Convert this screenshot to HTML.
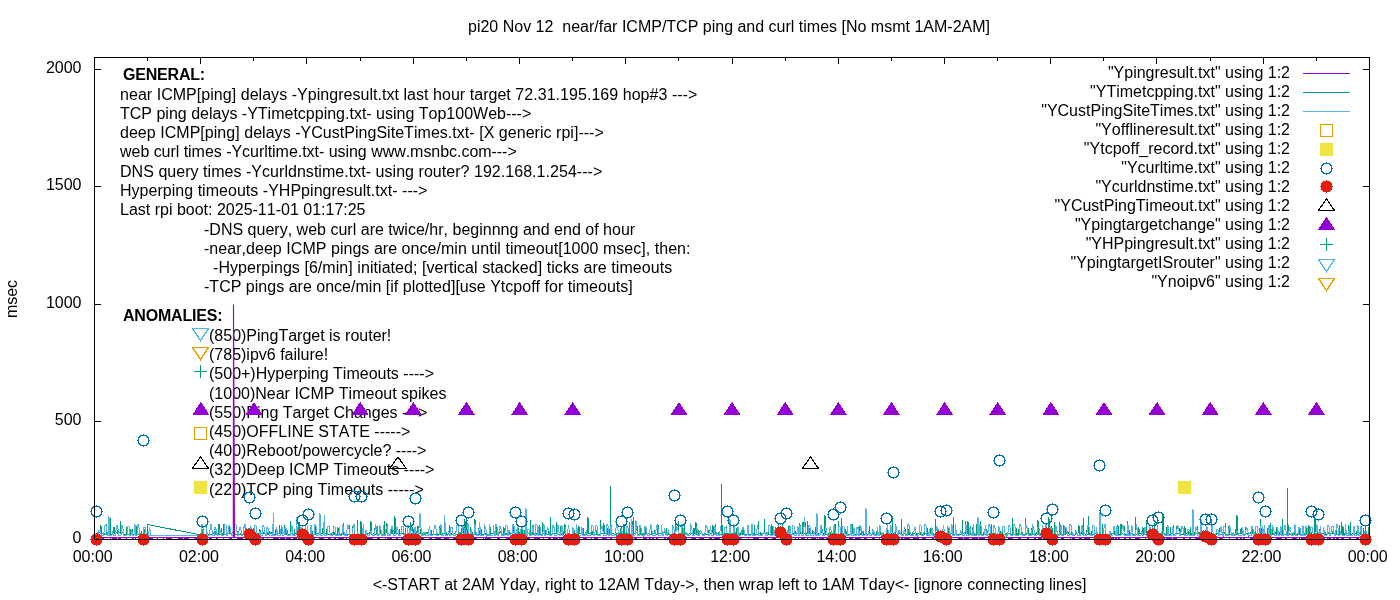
<!DOCTYPE html>
<html><head><meta charset="utf-8"><style>html,body{margin:0;padding:0;background:#fff;width:1400px;height:600px;overflow:hidden}
svg{display:block;will-change:transform;font-kerning:none} text{font-family:"Liberation Sans",sans-serif;fill:#000}</style></head>
<body><svg width="1400" height="600" viewBox="0 0 1400 600" shape-rendering="crispEdges">
<rect width="1400" height="600" fill="#fff"/>
<text x="729" y="32" font-size="16" text-anchor="middle" font-weight="normal"  xml:space="preserve">pi20 Nov 12  near/far ICMP/TCP ping and curl times [No msmt 1AM-2AM]</text>
<text x="0" y="0" font-size="16" text-anchor="middle" transform="translate(17,299) rotate(-90)">msec</text>
<text x="81.5" y="543.0" font-size="16" text-anchor="end" font-weight="normal"  xml:space="preserve">0</text>
<text x="81.5" y="425.45" font-size="16" text-anchor="end" font-weight="normal"  xml:space="preserve">500</text>
<text x="81.5" y="307.9" font-size="16" text-anchor="end" font-weight="normal"  xml:space="preserve">1000</text>
<text x="81.5" y="190.35000000000002" font-size="16" text-anchor="end" font-weight="normal"  xml:space="preserve">1500</text>
<text x="81.5" y="72.80000000000001" font-size="16" text-anchor="end" font-weight="normal"  xml:space="preserve">2000</text>
<text x="92.7" y="562" font-size="16" text-anchor="middle" font-weight="normal"  xml:space="preserve">00:00</text>
<text x="198.95" y="562" font-size="16" text-anchor="middle" font-weight="normal"  xml:space="preserve">02:00</text>
<text x="305.2" y="562" font-size="16" text-anchor="middle" font-weight="normal"  xml:space="preserve">04:00</text>
<text x="411.45" y="562" font-size="16" text-anchor="middle" font-weight="normal"  xml:space="preserve">06:00</text>
<text x="517.7" y="562" font-size="16" text-anchor="middle" font-weight="normal"  xml:space="preserve">08:00</text>
<text x="623.95" y="562" font-size="16" text-anchor="middle" font-weight="normal"  xml:space="preserve">10:00</text>
<text x="730.2" y="562" font-size="16" text-anchor="middle" font-weight="normal"  xml:space="preserve">12:00</text>
<text x="836.45" y="562" font-size="16" text-anchor="middle" font-weight="normal"  xml:space="preserve">14:00</text>
<text x="942.7" y="562" font-size="16" text-anchor="middle" font-weight="normal"  xml:space="preserve">16:00</text>
<text x="1048.95" y="562" font-size="16" text-anchor="middle" font-weight="normal"  xml:space="preserve">18:00</text>
<text x="1155.2" y="562" font-size="16" text-anchor="middle" font-weight="normal"  xml:space="preserve">20:00</text>
<text x="1261.45" y="562" font-size="16" text-anchor="middle" font-weight="normal"  xml:space="preserve">22:00</text>
<text x="1367.7" y="562" font-size="16" text-anchor="middle" font-weight="normal"  xml:space="preserve">00:00</text>
<text x="729.5" y="590" font-size="16" text-anchor="middle" font-weight="normal"  xml:space="preserve">&lt;-START at 2AM Yday, right to 12AM Tday-&gt;, then wrap left to 1AM Tday&lt;- [ignore connecting lines]</text>
<path d="M94.5,421.5h6M1369.5,421.5h-7M94.5,304.5h6M1369.5,304.5h-7M94.5,186.5h6M1369.5,186.5h-7M94.5,69.5h6M1369.5,69.5h-7M147.5,539.5v-3M147.5,57.5v3M200.5,539.5v-6M200.5,57.5v6M253.5,539.5v-3M253.5,57.5v3M306.5,539.5v-6M306.5,57.5v6M360.5,539.5v-3M360.5,57.5v3M413.5,539.5v-6M413.5,57.5v6M466.5,539.5v-3M466.5,57.5v3M519.5,539.5v-6M519.5,57.5v6M572.5,539.5v-3M572.5,57.5v3M625.5,539.5v-6M625.5,57.5v6M678.5,539.5v-3M678.5,57.5v3M732.5,539.5v-6M732.5,57.5v6M785.5,539.5v-3M785.5,57.5v3M838.5,539.5v-6M838.5,57.5v6M891.5,539.5v-3M891.5,57.5v3M944.5,539.5v-6M944.5,57.5v6M997.5,539.5v-3M997.5,57.5v3M1050.5,539.5v-6M1050.5,57.5v6M1103.5,539.5v-3M1103.5,57.5v3M1156.5,539.5v-6M1156.5,57.5v6M1210.5,539.5v-3M1210.5,57.5v3M1263.5,539.5v-6M1263.5,57.5v6M1316.5,539.5v-3M1316.5,57.5v3" stroke="#000" stroke-width="1" fill="none"/>
<text x="123" y="80" font-size="16" text-anchor="start" font-weight="bold" letter-spacing="-0.2" xml:space="preserve">GENERAL:</text>
<text x="120" y="100" font-size="16" text-anchor="start" font-weight="normal"  textLength="577.31" lengthAdjust="spacing" xml:space="preserve">near ICMP[ping] delays -Ypingresult.txt last hour target 72.31.195.169 hop#3 ---&gt;</text>
<text x="120" y="119" font-size="16" text-anchor="start" font-weight="normal"  xml:space="preserve">TCP ping delays -YTimetcpping.txt- using Top100Web---&gt;</text>
<text x="120" y="138" font-size="16" text-anchor="start" font-weight="normal"  textLength="483.82" lengthAdjust="spacing" xml:space="preserve">deep ICMP[ping] delays -YCustPingSiteTimes.txt- [X generic rpi]---&gt;</text>
<text x="120" y="157" font-size="16" text-anchor="start" font-weight="normal"  textLength="396.74" lengthAdjust="spacing" xml:space="preserve">web curl times -Ycurltime.txt- using www.msnbc.com---&gt;</text>
<text x="120" y="176.5" font-size="16" text-anchor="start" font-weight="normal"  textLength="482.27" lengthAdjust="spacing" xml:space="preserve">DNS query times -Ycurldnstime.txt- using router? 192.168.1.254---&gt;</text>
<text x="120" y="195.7" font-size="16" text-anchor="start" font-weight="normal"  textLength="307.43" lengthAdjust="spacing" xml:space="preserve">Hyperping timeouts -YHPpingresult.txt- ---&gt;</text>
<text x="120" y="215" font-size="16" text-anchor="start" font-weight="normal"  xml:space="preserve">Last rpi boot: 2025-11-01 01:17:25</text>
<text x="204" y="235" font-size="16" text-anchor="start" font-weight="normal"  textLength="431.16" lengthAdjust="spacing" xml:space="preserve">-DNS query, web curl are twice/hr, beginnng and end of hour</text>
<text x="204" y="253.5" font-size="16" text-anchor="start" font-weight="normal"  textLength="486.51" lengthAdjust="spacing" xml:space="preserve">-near,deep ICMP pings are once/min until timeout[1000 msec], then:</text>
<text x="204" y="272.7" font-size="16" text-anchor="start" font-weight="normal"  textLength="468.18" lengthAdjust="spacing" xml:space="preserve">  -Hyperpings [6/min] initiated; [vertical stacked] ticks are timeouts</text>
<text x="204" y="291.8" font-size="16" text-anchor="start" font-weight="normal"  textLength="428.75" lengthAdjust="spacing" xml:space="preserve">-TCP pings are once/min [if plotted][use Ytcpoff for timeouts]</text>
<text x="123" y="321" font-size="16" text-anchor="start" font-weight="bold" letter-spacing="-0.2" xml:space="preserve">ANOMALIES:</text>
<text x="209" y="341.0" font-size="16" text-anchor="start" font-weight="normal"  xml:space="preserve">(850)PingTarget is router!</text>
<text x="209" y="360.2" font-size="16" text-anchor="start" font-weight="normal"  xml:space="preserve">(785)ipv6 failure!</text>
<text x="209" y="379.4" font-size="16" text-anchor="start" font-weight="normal"  xml:space="preserve">(500+)Hyperping Timeouts ----&gt;</text>
<text x="209" y="398.6" font-size="16" text-anchor="start" font-weight="normal"  xml:space="preserve">(1000)Near ICMP Timeout spikes</text>
<text x="209" y="417.8" font-size="16" text-anchor="start" font-weight="normal"  xml:space="preserve">(550)Ping Target Changes ---&gt;</text>
<text x="209" y="437.0" font-size="16" text-anchor="start" font-weight="normal"  xml:space="preserve">(450)OFFLINE STATE -----&gt;</text>
<text x="209" y="456.2" font-size="16" text-anchor="start" font-weight="normal"  xml:space="preserve">(400)Reboot/powercycle? ----&gt;</text>
<text x="209" y="475.4" font-size="16" text-anchor="start" font-weight="normal"  xml:space="preserve">(320)Deep ICMP Timeouts ----&gt;</text>
<text x="209" y="494.6" font-size="16" text-anchor="start" font-weight="normal"  xml:space="preserve">(220)TCP ping Timeouts -----&gt;</text>
<text x="1290" y="78" font-size="16" text-anchor="end" font-weight="normal"  xml:space="preserve">"Ypingresult.txt" using 1:2</text>
<text x="1290" y="97" font-size="16" text-anchor="end" font-weight="normal"  xml:space="preserve">"YTimetcpping.txt" using 1:2</text>
<text x="1290" y="116" font-size="16" text-anchor="end" font-weight="normal"  xml:space="preserve">"YCustPingSiteTimes.txt" using 1:2</text>
<text x="1290" y="135" font-size="16" text-anchor="end" font-weight="normal"  xml:space="preserve">"Yofflineresult.txt" using 1:2</text>
<text x="1290" y="154" font-size="16" text-anchor="end" font-weight="normal"  xml:space="preserve">"Ytcpoff_record.txt" using 1:2</text>
<text x="1290" y="173" font-size="16" text-anchor="end" font-weight="normal"  xml:space="preserve">"Ycurltime.txt" using 1:2</text>
<text x="1290" y="192" font-size="16" text-anchor="end" font-weight="normal"  xml:space="preserve">"Ycurldnstime.txt" using 1:2</text>
<text x="1290" y="211" font-size="16" text-anchor="end" font-weight="normal"  xml:space="preserve">"YCustPingTimeout.txt" using 1:2</text>
<text x="1290" y="230" font-size="16" text-anchor="end" font-weight="normal"  xml:space="preserve">"Ypingtargetchange" using 1:2</text>
<text x="1290" y="249" font-size="16" text-anchor="end" font-weight="normal"  xml:space="preserve">"YHPpingresult.txt" using 1:2</text>
<text x="1290" y="268" font-size="16" text-anchor="end" font-weight="normal"  xml:space="preserve">"YpingtargetISrouter" using 1:2</text>
<text x="1290" y="287" font-size="16" text-anchor="end" font-weight="normal"  xml:space="preserve">"Ynoipv6" using 1:2</text>
<path d="M1303,73.5h47" stroke="#9400d3" stroke-width="1.2"/>
<path d="M1303,92.5h47" stroke="#009e73" stroke-width="1.2"/>
<path d="M1303,111.5h47" stroke="#56b4e9" stroke-width="1.2"/>
<rect x="1320.5" y="124.5" width="12" height="12" fill="none" stroke="#e69f00" stroke-width="1"/>
<rect x="1320.0" y="142.5" width="13" height="13" fill="#f0e442"/>
<path d="M1326,162h1v1h-1zM1323,163h7v1h-7zM1322,164h2v1h-2zM1329,164h2v1h-2zM1321,165h2v1h-2zM1330,165h2v1h-2zM1321,166h1v1h-1zM1331,166h1v1h-1zM1321,167h1v1h-1zM1331,167h1v1h-1zM1320,168h2v1h-2zM1331,168h2v1h-2zM1321,169h1v1h-1zM1331,169h1v1h-1zM1321,170h1v1h-1zM1331,170h1v1h-1zM1321,171h2v1h-2zM1330,171h2v1h-2zM1322,172h2v1h-2zM1329,172h2v1h-2zM1323,173h7v1h-7zM1326,174h1v1h-1z" fill="#0072b2"/>
<path d="M1326,180h1v1h-1zM1323,181h7v1h-7zM1322,182h9v1h-9zM1321,183h11v1h-11zM1321,184h11v1h-11zM1321,185h11v1h-11zM1320,186h13v1h-13zM1321,187h11v1h-11zM1321,188h11v1h-11zM1321,189h11v1h-11zM1322,190h9v1h-9zM1323,191h7v1h-7zM1326,192h1v1h-1z" fill="#e51e10"/>
<path d="M1326.5,198.9L1334.6,210.5L1318.4,210.5Z" fill="none" stroke="#000" stroke-width="1.15"/>
<path d="M1326.5,216.70000000000002L1335.1,229.9L1317.9,229.9Z" fill="#9400d3"/>
<path d="M1320.0,244.2h13M1326.5,237.7v13" stroke="#009e73" stroke-width="1.2"/>
<path d="M1326.5,271.5L1334.5,259.5L1318.5,259.5Z" fill="none" stroke="#56b4e9" stroke-width="1.15"/>
<path d="M1326.5,290.5L1334.5,278.5L1318.5,278.5Z" fill="none" stroke="#e69f00" stroke-width="1.15"/>
<path d="M200.5,340.5L208.5,328.5L192.5,328.5Z" fill="none" stroke="#56b4e9" stroke-width="1.15"/>
<path d="M200.5,359.5L208.5,347.5L192.5,347.5Z" fill="none" stroke="#e69f00" stroke-width="1.15"/>
<path d="M194.0,371.5h13M200.5,365.0v13" stroke="#009e73" stroke-width="1.2"/>
<rect x="194.5" y="427.5" width="12" height="12" fill="none" stroke="#e69f00" stroke-width="1"/>
<path d="M200.5,456.9L208.6,468.5L192.4,468.5Z" fill="none" stroke="#000" stroke-width="1.15"/>
<rect x="194.0" y="481.0" width="13" height="13" fill="#f0e442"/>
<path d="M95,537.5H1369" stroke="#9400d3" stroke-width="1"/>
<path d="M95,538.5h3M100,538.5h4M110,538.5h1M112,538.5h5M118,538.5h3M126,538.5h1M132,538.5h2M135,538.5h1M140,538.5h4M145,538.5h2M148,538.5h5M157,538.5h1M163,538.5h1M166,538.5h6M178,538.5h5M184,538.5h5M194,538.5h4M199,538.5h2M202,538.5h5M209,538.5h3M216,538.5h2M223,538.5h1M229,538.5h3M237,538.5h6M245,538.5h1M251,538.5h5M262,538.5h2M267,538.5h1M273,538.5h6M280,538.5h5M286,538.5h5M293,538.5h4M303,538.5h5M312,538.5h3M319,538.5h5M328,538.5h3M334,538.5h2M338,538.5h6M346,538.5h1M352,538.5h3M360,538.5h4M367,538.5h6M377,538.5h3M385,538.5h1M387,538.5h5M396,538.5h2M401,538.5h2M407,538.5h4M412,538.5h6M419,538.5h5M429,538.5h3M435,538.5h6M444,538.5h5M453,538.5h5M462,538.5h1M464,538.5h3M471,538.5h6M483,538.5h1M485,538.5h6M497,538.5h3M506,538.5h5M517,538.5h4M524,538.5h6M534,538.5h6M543,538.5h1M548,538.5h3M553,538.5h5M559,538.5h4M564,538.5h2M569,538.5h2M577,538.5h2M583,538.5h4M591,538.5h1M594,538.5h4M602,538.5h5M610,538.5h2M616,538.5h5M624,538.5h6M634,538.5h3M643,538.5h4M649,538.5h2M652,538.5h2M656,538.5h2M664,538.5h2M667,538.5h4M676,538.5h2M681,538.5h3M685,538.5h2M691,538.5h5M699,538.5h5M709,538.5h3M714,538.5h6M725,538.5h5M736,538.5h6M748,538.5h1M753,538.5h6M764,538.5h4M772,538.5h4M780,538.5h1M785,538.5h6M795,538.5h1M798,538.5h1M801,538.5h4M807,538.5h1M811,538.5h5M817,538.5h1M819,538.5h5M826,538.5h5M832,538.5h3M840,538.5h1M842,538.5h2M849,538.5h4M855,538.5h6M864,538.5h3M872,538.5h3M879,538.5h1M881,538.5h4M889,538.5h4M897,538.5h3M901,538.5h2M904,538.5h6M913,538.5h6M922,538.5h4M932,538.5h2M939,538.5h1M942,538.5h5M950,538.5h2M958,538.5h5M964,538.5h5M972,538.5h6M979,538.5h6M988,538.5h5M996,538.5h2M1001,538.5h2M1008,538.5h5M1018,538.5h3M1027,538.5h2M1034,538.5h2M1038,538.5h4M1048,538.5h2M1052,538.5h5M1061,538.5h3M1070,538.5h1M1072,538.5h3M1079,538.5h3M1084,538.5h6M1095,538.5h3M1102,538.5h6M1111,538.5h3M1115,538.5h2M1118,538.5h2M1124,538.5h2M1129,538.5h2M1135,538.5h5M1145,538.5h1M1150,538.5h6M1159,538.5h6M1166,538.5h6M1173,538.5h4M1183,538.5h2M1189,538.5h2M1195,538.5h6M1204,538.5h1M1211,538.5h4M1219,538.5h4M1229,538.5h1M1236,538.5h2M1240,538.5h2M1243,538.5h2M1250,538.5h4M1260,538.5h2M1267,538.5h5M1276,538.5h6M1285,538.5h2M1292,538.5h5M1299,538.5h1M1301,538.5h6M1313,538.5h1M1319,538.5h6M1327,538.5h4M1333,538.5h2M1336,538.5h3M1341,538.5h3M1349,538.5h2M1356,538.5h3M1362,538.5h5" stroke="#9400d3" stroke-width="1"/>
<polyline points="95.5,534.5 97.5,534.5 97.5,531.5 97.5,533.5 100.5,532.5 100.5,525.5 101.5,526.5 101.5,533.5 104.5,534.5 104.5,532.5 104.5,534.5 106.5,534.5 106.5,523.5 106.5,534.5 110.5,532.5 110.5,517.5 110.5,534.5 113.5,534.5 113.5,527.5 114.5,527.5 114.5,533.5 117.5,532.5 117.5,529.5 117.5,533.5 120.5,532.5 120.5,520.5 120.5,533.5 123.5,532.5 123.5,531.5 123.5,534.5 126.5,534.5 126.5,526.5 126.5,534.5 130.5,534.5 130.5,528.5 130.5,534.5 132.5,534.5 132.5,528.5 132.5,534.5 136.5,534.5 136.5,526.5 137.5,527.5 137.5,534.5 141.5,533.5 141.5,530.5 141.5,534.5 143.5,534.5 143.5,527.5 144.5,531.5 144.5,534.5 147.5,534.5 147.5,525.5 147.5,533.5 147.5,524.5 198.5,534.5 199.5,534.5 200.5,534.5 200.5,532.5 200.5,534.5 201.5,534.5 201.5,528.5 202.5,529.5 202.5,534.5 206.5,534.5 206.5,525.5 206.5,533.5 209.5,534.5 209.5,529.5 209.5,534.5 212.5,534.5 212.5,529.5 212.5,534.5 213.5,532.5 213.5,533.5 214.5,533.5 214.5,534.5 215.5,534.5 215.5,530.5 215.5,534.5 218.5,534.5 218.5,524.5 219.5,524.5 219.5,534.5 221.5,534.5 221.5,527.5 221.5,533.5 223.5,534.5 223.5,524.5 224.5,526.5 224.5,534.5 226.5,534.5 226.5,524.5 226.5,534.5 229.5,533.5 229.5,526.5 230.5,529.5 230.5,533.5 233.5,532.5 233.5,530.5 233.5,534.5 237.5,534.5 237.5,531.5 238.5,532.5 238.5,534.5 240.5,534.5 240.5,533.5 241.5,535.5 241.5,534.5 243.5,534.5 243.5,526.5 243.5,533.5 245.5,532.5 245.5,527.5 246.5,528.5 246.5,534.5 248.5,533.5 248.5,527.5 248.5,533.5 250.5,534.5 250.5,527.5 251.5,528.5 251.5,534.5 253.5,533.5 253.5,527.5 253.5,534.5 255.5,532.5 255.5,533.5 256.5,533.5 256.5,534.5 259.5,532.5 259.5,529.5 260.5,530.5 260.5,534.5 263.5,532.5 263.5,532.5 263.5,533.5 266.5,533.5 266.5,530.5 267.5,534.5 267.5,533.5 269.5,534.5 269.5,530.5 269.5,533.5 271.5,532.5 271.5,533.5 271.5,533.5 275.5,534.5 275.5,529.5 276.5,531.5 276.5,534.5 279.5,533.5 279.5,524.5 279.5,533.5 281.5,533.5 281.5,526.5 281.5,533.5 284.5,532.5 284.5,525.5 285.5,528.5 285.5,534.5 286.5,534.5 286.5,528.5 287.5,531.5 287.5,534.5 290.5,534.5 290.5,520.5 290.5,533.5 294.5,534.5 294.5,528.5 294.5,533.5 298.5,534.5 298.5,522.5 299.5,522.5 299.5,534.5 301.5,534.5 301.5,530.5 302.5,534.5 302.5,534.5 305.5,533.5 305.5,523.5 305.5,533.5 307.5,534.5 307.5,530.5 308.5,533.5 308.5,534.5 311.5,533.5 311.5,530.5 312.5,531.5 312.5,534.5 315.5,534.5 315.5,525.5 316.5,527.5 316.5,534.5 319.5,532.5 319.5,529.5 319.5,534.5 322.5,533.5 322.5,528.5 323.5,531.5 323.5,533.5 326.5,533.5 326.5,528.5 326.5,534.5 328.5,534.5 328.5,533.5 328.5,534.5 331.5,534.5 331.5,532.5 331.5,533.5 333.5,534.5 333.5,526.5 333.5,533.5 334.5,534.5 334.5,531.5 334.5,534.5 335.5,534.5 335.5,531.5 335.5,534.5 337.5,534.5 337.5,527.5 338.5,529.5 338.5,534.5 339.5,533.5 339.5,532.5 339.5,534.5 343.5,533.5 343.5,522.5 343.5,534.5 346.5,534.5 346.5,532.5 347.5,535.5 347.5,534.5 349.5,534.5 349.5,524.5 349.5,534.5 352.5,534.5 352.5,525.5 352.5,534.5 354.5,534.5 354.5,525.5 354.5,534.5 357.5,534.5 357.5,519.5 357.5,534.5 360.5,534.5 360.5,521.5 361.5,523.5 361.5,533.5 362.5,534.5 362.5,527.5 362.5,534.5 363.5,533.5 363.5,524.5 363.5,534.5 365.5,534.5 365.5,530.5 366.5,532.5 366.5,534.5 370.5,532.5 370.5,521.5 371.5,522.5 371.5,534.5 374.5,533.5 374.5,527.5 374.5,534.5 376.5,534.5 376.5,526.5 376.5,534.5 377.5,534.5 377.5,525.5 377.5,534.5 379.5,534.5 379.5,528.5 379.5,533.5 380.5,533.5 380.5,529.5 381.5,530.5 381.5,534.5 384.5,534.5 384.5,520.5 384.5,533.5 386.5,532.5 386.5,523.5 387.5,525.5 387.5,533.5 390.5,534.5 390.5,528.5 390.5,534.5 391.5,532.5 391.5,526.5 392.5,528.5 392.5,533.5 394.5,533.5 394.5,516.5 395.5,519.5 395.5,533.5 399.5,534.5 399.5,528.5 399.5,533.5 403.5,533.5 403.5,528.5 403.5,534.5 405.5,533.5 405.5,527.5 405.5,534.5 409.5,533.5 409.5,527.5 409.5,533.5 410.5,534.5 410.5,521.5 410.5,534.5 412.5,533.5 412.5,527.5 413.5,531.5 413.5,534.5 416.5,534.5 416.5,530.5 416.5,533.5 417.5,532.5 417.5,526.5 418.5,526.5 418.5,533.5 420.5,533.5 420.5,529.5 421.5,532.5 421.5,533.5 423.5,534.5 423.5,532.5 423.5,534.5 427.5,532.5 427.5,533.5 427.5,533.5 430.5,534.5 430.5,530.5 431.5,530.5 431.5,534.5 433.5,534.5 433.5,529.5 433.5,534.5 436.5,534.5 436.5,531.5 436.5,534.5 437.5,534.5 437.5,532.5 437.5,534.5 439.5,534.5 439.5,526.5 440.5,529.5 440.5,534.5 444.5,533.5 444.5,529.5 444.5,534.5 446.5,534.5 446.5,531.5 446.5,534.5 449.5,534.5 449.5,524.5 449.5,534.5 451.5,534.5 451.5,533.5 452.5,534.5 452.5,534.5 455.5,533.5 455.5,530.5 455.5,534.5 458.5,534.5 458.5,532.5 459.5,534.5 459.5,533.5 461.5,532.5 461.5,527.5 461.5,533.5 462.5,532.5 462.5,528.5 463.5,528.5 463.5,533.5 464.5,533.5 464.5,519.5 465.5,522.5 465.5,534.5 466.5,534.5 466.5,521.5 467.5,524.5 467.5,533.5 470.5,534.5 470.5,526.5 470.5,533.5 472.5,532.5 472.5,533.5 472.5,534.5 474.5,534.5 474.5,519.5 475.5,521.5 475.5,534.5 478.5,534.5 478.5,528.5 479.5,532.5 479.5,534.5 481.5,534.5 481.5,528.5 481.5,534.5 485.5,534.5 485.5,533.5 486.5,536.5 486.5,534.5 489.5,534.5 489.5,527.5 490.5,527.5 490.5,534.5 493.5,532.5 493.5,529.5 493.5,534.5 496.5,532.5 496.5,524.5 496.5,534.5 500.5,532.5 500.5,531.5 501.5,533.5 501.5,534.5 503.5,534.5 503.5,527.5 504.5,528.5 504.5,534.5 506.5,533.5 506.5,532.5 506.5,534.5 508.5,534.5 508.5,530.5 509.5,530.5 509.5,534.5 513.5,532.5 513.5,525.5 514.5,526.5 514.5,534.5 518.5,534.5 518.5,527.5 518.5,534.5 519.5,534.5 519.5,531.5 519.5,534.5 521.5,534.5 521.5,526.5 522.5,526.5 522.5,534.5 524.5,533.5 524.5,529.5 524.5,534.5 527.5,534.5 527.5,529.5 527.5,533.5 530.5,534.5 530.5,519.5 530.5,534.5 532.5,534.5 532.5,525.5 533.5,525.5 533.5,534.5 536.5,533.5 536.5,532.5 536.5,534.5 539.5,534.5 539.5,524.5 539.5,533.5 542.5,534.5 542.5,521.5 542.5,533.5 544.5,533.5 544.5,528.5 545.5,532.5 545.5,534.5 548.5,534.5 548.5,528.5 548.5,534.5 549.5,532.5 549.5,533.5 549.5,534.5 550.5,533.5 550.5,516.5 550.5,534.5 554.5,533.5 554.5,528.5 554.5,533.5 556.5,533.5 556.5,522.5 557.5,526.5 557.5,534.5 560.5,534.5 560.5,525.5 560.5,534.5 562.5,533.5 562.5,529.5 563.5,532.5 563.5,534.5 564.5,533.5 564.5,524.5 565.5,525.5 565.5,534.5 569.5,534.5 569.5,533.5 570.5,537.5 570.5,534.5 574.5,534.5 574.5,529.5 574.5,533.5 578.5,534.5 578.5,526.5 579.5,527.5 579.5,533.5 583.5,534.5 583.5,527.5 583.5,534.5 585.5,534.5 585.5,531.5 585.5,534.5 587.5,534.5 587.5,517.5 588.5,519.5 588.5,533.5 591.5,534.5 591.5,529.5 592.5,532.5 592.5,534.5 596.5,534.5 596.5,530.5 597.5,532.5 597.5,534.5 600.5,534.5 600.5,519.5 600.5,534.5 603.5,532.5 603.5,523.5 604.5,527.5 604.5,533.5 607.5,534.5 607.5,527.5 607.5,534.5 609.5,534.5 609.5,528.5 609.5,534.5 611.5,532.5 611.5,524.5 611.5,533.5 615.5,534.5 615.5,533.5 616.5,535.5 616.5,533.5 620.5,533.5 620.5,527.5 620.5,534.5 623.5,534.5 623.5,524.5 624.5,524.5 624.5,533.5 626.5,534.5 626.5,527.5 626.5,534.5 629.5,534.5 629.5,521.5 629.5,534.5 631.5,534.5 631.5,528.5 631.5,534.5 632.5,534.5 632.5,520.5 632.5,534.5 633.5,534.5 633.5,516.5 633.5,533.5 637.5,532.5 637.5,525.5 637.5,534.5 639.5,534.5 639.5,525.5 640.5,526.5 640.5,534.5 642.5,534.5 642.5,533.5 643.5,537.5 643.5,533.5 645.5,534.5 645.5,525.5 645.5,533.5 649.5,533.5 649.5,532.5 649.5,534.5 651.5,534.5 651.5,530.5 651.5,534.5 654.5,533.5 654.5,530.5 655.5,533.5 655.5,534.5 657.5,534.5 657.5,524.5 658.5,526.5 658.5,533.5 662.5,534.5 662.5,531.5 662.5,533.5 665.5,532.5 665.5,531.5 665.5,534.5 666.5,532.5 666.5,527.5 666.5,533.5 668.5,534.5 668.5,531.5 669.5,534.5 669.5,534.5 672.5,534.5 672.5,524.5 672.5,533.5 675.5,533.5 675.5,516.5 675.5,534.5 678.5,534.5 678.5,520.5 678.5,534.5 681.5,532.5 681.5,528.5 682.5,528.5 682.5,534.5 683.5,532.5 683.5,531.5 683.5,533.5 684.5,534.5 684.5,524.5 684.5,534.5 688.5,534.5 688.5,533.5 688.5,534.5 690.5,532.5 690.5,533.5 690.5,533.5 693.5,534.5 693.5,528.5 694.5,528.5 694.5,533.5 695.5,534.5 695.5,522.5 696.5,523.5 696.5,534.5 698.5,534.5 698.5,529.5 698.5,534.5 699.5,534.5 699.5,530.5 699.5,533.5 703.5,534.5 703.5,533.5 703.5,534.5 705.5,533.5 705.5,532.5 705.5,534.5 708.5,534.5 708.5,529.5 708.5,534.5 709.5,534.5 709.5,529.5 709.5,534.5 712.5,532.5 712.5,525.5 713.5,526.5 713.5,534.5 715.5,534.5 715.5,523.5 715.5,534.5 718.5,532.5 718.5,531.5 718.5,534.5 721.5,534.5 721.5,524.5 722.5,525.5 722.5,534.5 724.5,533.5 724.5,532.5 724.5,533.5 726.5,533.5 726.5,525.5 726.5,533.5 730.5,534.5 730.5,527.5 730.5,534.5 734.5,532.5 734.5,532.5 734.5,533.5 736.5,532.5 736.5,527.5 736.5,533.5 738.5,532.5 738.5,527.5 738.5,533.5 740.5,534.5 740.5,531.5 740.5,534.5 742.5,534.5 742.5,528.5 743.5,528.5 743.5,534.5 747.5,534.5 747.5,528.5 747.5,534.5 751.5,534.5 751.5,528.5 752.5,528.5 752.5,534.5 754.5,533.5 754.5,524.5 754.5,534.5 758.5,534.5 758.5,520.5 758.5,534.5 760.5,532.5 760.5,533.5 760.5,534.5 764.5,532.5 764.5,518.5 764.5,533.5 768.5,532.5 768.5,532.5 768.5,534.5 771.5,534.5 771.5,524.5 772.5,527.5 772.5,534.5 775.5,534.5 775.5,526.5 775.5,534.5 778.5,533.5 778.5,522.5 778.5,534.5 779.5,533.5 779.5,533.5 780.5,537.5 780.5,534.5 782.5,534.5 782.5,523.5 782.5,534.5 785.5,534.5 785.5,533.5 785.5,534.5 788.5,534.5 788.5,526.5 789.5,527.5 789.5,534.5 792.5,534.5 792.5,531.5 792.5,534.5 794.5,533.5 794.5,529.5 795.5,532.5 795.5,533.5 799.5,534.5 799.5,523.5 800.5,526.5 800.5,533.5 802.5,533.5 802.5,522.5 803.5,522.5 803.5,533.5 805.5,533.5 805.5,521.5 805.5,534.5 807.5,533.5 807.5,520.5 807.5,533.5 809.5,533.5 809.5,528.5 810.5,531.5 810.5,533.5 812.5,533.5 812.5,530.5 813.5,532.5 813.5,534.5 815.5,534.5 815.5,526.5 815.5,533.5 816.5,534.5 816.5,527.5 816.5,534.5 817.5,532.5 817.5,532.5 817.5,534.5 821.5,532.5 821.5,529.5 822.5,529.5 822.5,533.5 824.5,534.5 824.5,515.5 825.5,516.5 825.5,534.5 828.5,534.5 828.5,532.5 828.5,533.5 830.5,532.5 830.5,533.5 830.5,533.5 834.5,534.5 834.5,524.5 835.5,524.5 835.5,533.5 838.5,534.5 838.5,520.5 838.5,534.5 841.5,533.5 841.5,517.5 841.5,534.5 845.5,533.5 845.5,528.5 845.5,533.5 846.5,534.5 846.5,530.5 846.5,534.5 850.5,534.5 850.5,531.5 850.5,533.5 851.5,534.5 851.5,524.5 852.5,524.5 852.5,533.5 856.5,534.5 856.5,533.5 856.5,534.5 858.5,534.5 858.5,526.5 858.5,534.5 859.5,534.5 859.5,525.5 859.5,534.5 861.5,533.5 861.5,527.5 861.5,534.5 863.5,534.5 863.5,530.5 863.5,534.5 866.5,534.5 866.5,530.5 866.5,534.5 868.5,534.5 868.5,532.5 868.5,533.5 869.5,534.5 869.5,525.5 869.5,533.5 872.5,534.5 872.5,529.5 873.5,530.5 873.5,534.5 876.5,534.5 876.5,530.5 876.5,533.5 880.5,532.5 880.5,533.5 881.5,536.5 881.5,533.5 883.5,534.5 883.5,533.5 883.5,534.5 887.5,534.5 887.5,528.5 887.5,533.5 891.5,534.5 891.5,532.5 891.5,534.5 892.5,533.5 892.5,515.5 892.5,534.5 895.5,532.5 895.5,523.5 895.5,534.5 898.5,533.5 898.5,529.5 898.5,533.5 901.5,534.5 901.5,518.5 901.5,534.5 905.5,533.5 905.5,528.5 905.5,534.5 906.5,534.5 906.5,533.5 906.5,534.5 908.5,534.5 908.5,529.5 909.5,533.5 909.5,534.5 912.5,534.5 912.5,531.5 912.5,533.5 916.5,534.5 916.5,533.5 917.5,537.5 917.5,533.5 920.5,533.5 920.5,531.5 920.5,534.5 924.5,534.5 924.5,529.5 924.5,533.5 927.5,534.5 927.5,527.5 927.5,534.5 930.5,532.5 930.5,527.5 930.5,533.5 933.5,533.5 933.5,532.5 933.5,534.5 935.5,534.5 935.5,518.5 935.5,534.5 937.5,532.5 937.5,527.5 938.5,531.5 938.5,534.5 941.5,534.5 941.5,531.5 941.5,534.5 944.5,533.5 944.5,532.5 944.5,534.5 948.5,534.5 948.5,527.5 948.5,533.5 949.5,534.5 949.5,532.5 950.5,536.5 950.5,533.5 953.5,534.5 953.5,516.5 953.5,534.5 955.5,534.5 955.5,529.5 955.5,534.5 959.5,534.5 959.5,533.5 959.5,534.5 962.5,534.5 962.5,519.5 962.5,534.5 965.5,532.5 965.5,520.5 965.5,533.5 967.5,533.5 967.5,521.5 968.5,522.5 968.5,534.5 970.5,534.5 970.5,525.5 970.5,533.5 972.5,534.5 972.5,526.5 972.5,534.5 974.5,533.5 974.5,532.5 974.5,534.5 976.5,534.5 976.5,524.5 977.5,525.5 977.5,533.5 980.5,532.5 980.5,520.5 980.5,534.5 983.5,534.5 983.5,532.5 984.5,532.5 984.5,534.5 986.5,534.5 986.5,529.5 987.5,533.5 987.5,534.5 991.5,533.5 991.5,523.5 991.5,533.5 994.5,534.5 994.5,533.5 995.5,537.5 995.5,534.5 999.5,534.5 999.5,530.5 1000.5,531.5 1000.5,534.5 1002.5,534.5 1002.5,527.5 1002.5,534.5 1005.5,534.5 1005.5,533.5 1006.5,537.5 1006.5,533.5 1010.5,533.5 1010.5,528.5 1010.5,534.5 1012.5,534.5 1012.5,517.5 1012.5,534.5 1015.5,534.5 1015.5,526.5 1016.5,529.5 1016.5,534.5 1018.5,533.5 1018.5,528.5 1018.5,534.5 1021.5,534.5 1021.5,532.5 1021.5,534.5 1022.5,532.5 1022.5,532.5 1022.5,534.5 1025.5,534.5 1025.5,517.5 1025.5,534.5 1027.5,533.5 1027.5,527.5 1028.5,528.5 1028.5,533.5 1029.5,534.5 1029.5,532.5 1029.5,534.5 1031.5,533.5 1031.5,528.5 1032.5,532.5 1032.5,534.5 1034.5,534.5 1034.5,529.5 1034.5,534.5 1035.5,534.5 1035.5,533.5 1035.5,533.5 1037.5,532.5 1037.5,520.5 1038.5,521.5 1038.5,534.5 1041.5,534.5 1041.5,532.5 1042.5,534.5 1042.5,534.5 1044.5,534.5 1044.5,531.5 1045.5,531.5 1045.5,534.5 1048.5,534.5 1048.5,517.5 1049.5,521.5 1049.5,534.5 1051.5,534.5 1051.5,526.5 1052.5,530.5 1052.5,534.5 1054.5,534.5 1054.5,521.5 1054.5,534.5 1057.5,534.5 1057.5,530.5 1057.5,534.5 1059.5,534.5 1059.5,521.5 1059.5,534.5 1060.5,534.5 1060.5,530.5 1060.5,534.5 1063.5,534.5 1063.5,524.5 1063.5,534.5 1064.5,534.5 1064.5,526.5 1065.5,528.5 1065.5,534.5 1067.5,532.5 1067.5,531.5 1068.5,533.5 1068.5,533.5 1071.5,534.5 1071.5,526.5 1071.5,534.5 1072.5,534.5 1072.5,531.5 1072.5,534.5 1075.5,534.5 1075.5,529.5 1075.5,534.5 1078.5,532.5 1078.5,525.5 1079.5,526.5 1079.5,534.5 1081.5,532.5 1081.5,529.5 1081.5,533.5 1082.5,534.5 1082.5,524.5 1082.5,534.5 1083.5,532.5 1083.5,517.5 1083.5,533.5 1086.5,534.5 1086.5,529.5 1086.5,534.5 1088.5,534.5 1088.5,515.5 1088.5,534.5 1089.5,534.5 1089.5,528.5 1089.5,534.5 1091.5,534.5 1091.5,530.5 1091.5,534.5 1092.5,533.5 1092.5,533.5 1092.5,534.5 1094.5,534.5 1094.5,527.5 1094.5,533.5 1096.5,533.5 1096.5,533.5 1096.5,534.5 1100.5,534.5 1100.5,526.5 1100.5,534.5 1102.5,534.5 1102.5,523.5 1102.5,534.5 1105.5,534.5 1105.5,526.5 1105.5,534.5 1109.5,534.5 1109.5,533.5 1110.5,537.5 1110.5,534.5 1114.5,532.5 1114.5,525.5 1114.5,534.5 1117.5,534.5 1117.5,525.5 1118.5,526.5 1118.5,534.5 1120.5,534.5 1120.5,524.5 1121.5,524.5 1121.5,533.5 1124.5,534.5 1124.5,525.5 1124.5,534.5 1127.5,534.5 1127.5,520.5 1127.5,533.5 1129.5,534.5 1129.5,529.5 1129.5,534.5 1132.5,532.5 1132.5,532.5 1132.5,534.5 1135.5,534.5 1135.5,516.5 1135.5,534.5 1138.5,534.5 1138.5,527.5 1139.5,531.5 1139.5,533.5 1142.5,532.5 1142.5,527.5 1143.5,528.5 1143.5,534.5 1146.5,534.5 1146.5,520.5 1146.5,534.5 1148.5,534.5 1148.5,532.5 1148.5,533.5 1150.5,533.5 1150.5,530.5 1150.5,534.5 1154.5,534.5 1154.5,522.5 1154.5,533.5 1156.5,534.5 1156.5,531.5 1156.5,533.5 1157.5,533.5 1157.5,524.5 1157.5,533.5 1159.5,533.5 1159.5,533.5 1159.5,533.5 1162.5,534.5 1162.5,515.5 1163.5,517.5 1163.5,533.5 1166.5,534.5 1166.5,526.5 1166.5,534.5 1170.5,534.5 1170.5,526.5 1170.5,533.5 1173.5,534.5 1173.5,524.5 1173.5,534.5 1176.5,533.5 1176.5,525.5 1176.5,534.5 1179.5,532.5 1179.5,528.5 1180.5,530.5 1180.5,534.5 1183.5,534.5 1183.5,532.5 1183.5,534.5 1184.5,534.5 1184.5,526.5 1185.5,530.5 1185.5,534.5 1188.5,532.5 1188.5,530.5 1188.5,534.5 1189.5,532.5 1189.5,530.5 1189.5,533.5 1190.5,532.5 1190.5,526.5 1190.5,534.5 1194.5,532.5 1194.5,532.5 1194.5,534.5 1197.5,533.5 1197.5,525.5 1197.5,533.5 1199.5,532.5 1199.5,533.5 1200.5,535.5 1200.5,534.5 1201.5,534.5 1201.5,523.5 1201.5,534.5 1205.5,534.5 1205.5,530.5 1205.5,533.5 1207.5,532.5 1207.5,528.5 1207.5,534.5 1211.5,532.5 1211.5,519.5 1211.5,533.5 1215.5,534.5 1215.5,533.5 1215.5,534.5 1219.5,532.5 1219.5,527.5 1219.5,534.5 1222.5,534.5 1222.5,532.5 1223.5,536.5 1223.5,533.5 1225.5,532.5 1225.5,522.5 1225.5,534.5 1228.5,534.5 1228.5,525.5 1228.5,534.5 1229.5,534.5 1229.5,525.5 1229.5,534.5 1232.5,533.5 1232.5,533.5 1232.5,533.5 1235.5,534.5 1235.5,528.5 1235.5,534.5 1236.5,534.5 1236.5,515.5 1237.5,516.5 1237.5,534.5 1240.5,533.5 1240.5,528.5 1240.5,533.5 1241.5,533.5 1241.5,528.5 1242.5,528.5 1242.5,534.5 1245.5,534.5 1245.5,526.5 1245.5,533.5 1247.5,533.5 1247.5,533.5 1248.5,536.5 1248.5,533.5 1252.5,532.5 1252.5,527.5 1252.5,533.5 1255.5,534.5 1255.5,532.5 1256.5,533.5 1256.5,534.5 1259.5,534.5 1259.5,527.5 1259.5,534.5 1260.5,534.5 1260.5,518.5 1260.5,533.5 1261.5,534.5 1261.5,527.5 1261.5,534.5 1263.5,533.5 1263.5,528.5 1263.5,534.5 1267.5,534.5 1267.5,528.5 1268.5,529.5 1268.5,534.5 1270.5,534.5 1270.5,522.5 1270.5,534.5 1272.5,534.5 1272.5,528.5 1272.5,534.5 1276.5,532.5 1276.5,526.5 1276.5,534.5 1279.5,534.5 1279.5,531.5 1279.5,534.5 1282.5,534.5 1282.5,518.5 1282.5,534.5 1284.5,534.5 1284.5,533.5 1284.5,534.5 1288.5,533.5 1288.5,524.5 1288.5,534.5 1289.5,533.5 1289.5,532.5 1289.5,534.5 1291.5,534.5 1291.5,533.5 1292.5,535.5 1292.5,533.5 1294.5,534.5 1294.5,527.5 1295.5,529.5 1295.5,534.5 1299.5,533.5 1299.5,526.5 1299.5,534.5 1303.5,534.5 1303.5,532.5 1304.5,534.5 1304.5,534.5 1305.5,533.5 1305.5,526.5 1305.5,533.5 1306.5,534.5 1306.5,527.5 1306.5,533.5 1308.5,534.5 1308.5,525.5 1309.5,526.5 1309.5,534.5 1311.5,533.5 1311.5,531.5 1311.5,534.5 1314.5,534.5 1314.5,516.5 1315.5,519.5 1315.5,533.5 1319.5,532.5 1319.5,529.5 1320.5,531.5 1320.5,534.5 1323.5,532.5 1323.5,532.5 1323.5,534.5 1325.5,534.5 1325.5,531.5 1325.5,534.5 1328.5,533.5 1328.5,532.5 1329.5,532.5 1329.5,534.5 1332.5,533.5 1332.5,530.5 1332.5,533.5 1336.5,534.5 1336.5,525.5 1336.5,534.5 1339.5,534.5 1339.5,524.5 1339.5,533.5 1341.5,534.5 1341.5,521.5 1341.5,534.5 1342.5,534.5 1342.5,526.5 1343.5,528.5 1343.5,534.5 1345.5,533.5 1345.5,532.5 1345.5,534.5 1348.5,533.5 1348.5,524.5 1348.5,534.5 1350.5,534.5 1350.5,521.5 1350.5,534.5 1353.5,533.5 1353.5,532.5 1353.5,534.5 1356.5,533.5 1356.5,530.5 1356.5,534.5 1360.5,534.5 1360.5,526.5 1361.5,526.5 1361.5,534.5 1363.5,534.5 1363.5,527.5 1363.5,534.5 1365.5,534.5 1365.5,525.5 1365.5,534.5 1368.5,534.5 1368.5,526.5 1368.5,534.5 1369.5,534.5 1369.5,531.5 1369.5,534.5 1369.5,534.5" fill="none" stroke="#009e73" stroke-width="1.0" stroke-linejoin="miter"/>
<path d="M610.5,534.5V485.5" stroke="#009e73" stroke-width="1" fill="none"/>
<path d="M721.5,534.5V483.5" stroke="#009e73" stroke-width="1" fill="none"/>
<path d="M1287.5,534.5V487.5" stroke="#009e73" stroke-width="1" fill="none"/>
<polyline points="95.5,535.5 98.5,535.5 99.0,530.5 100.0,530.5 101.5,535.5 103.5,535.5 105.0,525.5 106.0,525.5 107.5,535.5 108.5,535.5 109.0,516.5 110.0,535.5 112.0,535.5 112.5,531.5 113.5,535.5 115.5,535.5 116.5,525.5 117.5,525.5 119.0,535.5 121.0,535.5 121.5,525.5 122.5,525.5 124.0,535.5 127.0,535.5 128.0,526.5 129.0,526.5 130.0,535.5 131.0,535.5 131.5,531.5 132.5,533.5 133.0,535.5 134.0,535.5 134.5,524.5 135.5,525.5 136.0,535.5 137.0,535.5 137.5,524.5 138.5,524.5 140.0,535.5 143.0,535.5 144.0,527.5 145.0,527.5 146.5,535.5 148.5,535.5 149.5,527.5 151.0,535.5 148.5,535.5 198.5,535.5 199.5,535.5 201.5,535.5 202.0,524.5 203.0,526.5 204.0,535.5 206.0,535.5 206.5,527.5 207.5,535.5 209.5,535.5 210.5,524.5 211.5,524.5 212.5,535.5 214.5,535.5 215.0,527.5 216.0,529.5 217.5,535.5 218.5,535.5 220.0,530.5 221.0,532.5 222.0,535.5 224.0,535.5 225.0,524.5 226.0,524.5 226.5,535.5 227.5,535.5 229.0,525.5 230.0,526.5 231.5,535.5 234.5,535.5 235.0,524.5 236.0,524.5 237.5,535.5 238.5,535.5 239.5,527.5 240.5,527.5 242.0,535.5 243.0,535.5 244.5,524.5 245.5,524.5 247.0,535.5 250.0,535.5 251.0,526.5 251.5,535.5 254.5,535.5 255.0,525.5 256.0,525.5 257.0,535.5 259.0,535.5 260.0,531.5 260.5,535.5 262.5,535.5 263.0,525.5 264.0,526.5 265.5,535.5 266.5,535.5 267.0,527.5 268.0,528.5 269.5,535.5 272.5,535.5 273.5,513.5 274.0,535.5 276.0,535.5 276.5,527.5 278.0,535.5 280.0,535.5 281.5,526.5 282.5,528.5 283.0,535.5 284.0,535.5 285.0,527.5 286.0,528.5 287.5,535.5 290.5,535.5 292.0,525.5 293.0,535.5 296.0,535.5 296.5,517.5 297.5,535.5 300.5,535.5 301.0,527.5 302.0,529.5 303.0,535.5 305.0,535.5 306.0,524.5 307.0,524.5 308.0,535.5 310.0,535.5 310.5,525.5 311.5,525.5 312.0,535.5 314.0,535.5 315.0,524.5 316.0,526.5 317.0,535.5 319.0,535.5 320.0,513.5 321.0,535.5 323.0,535.5 324.5,515.5 325.0,535.5 327.0,535.5 328.0,526.5 329.0,526.5 330.5,535.5 332.5,535.5 334.0,526.5 335.0,526.5 335.5,535.5 338.5,535.5 339.5,527.5 340.0,535.5 342.0,535.5 343.0,525.5 344.5,535.5 346.5,535.5 347.5,524.5 348.5,525.5 350.0,535.5 352.0,535.5 353.5,524.5 354.5,524.5 355.0,535.5 357.0,535.5 357.5,531.5 359.0,535.5 362.0,535.5 363.5,524.5 364.0,535.5 365.0,535.5 366.0,530.5 367.5,535.5 369.5,535.5 371.0,531.5 372.5,535.5 374.5,535.5 375.5,525.5 376.5,527.5 378.0,535.5 379.0,535.5 379.5,525.5 380.5,526.5 382.0,535.5 383.0,535.5 383.5,525.5 384.0,535.5 385.0,535.5 386.5,526.5 387.5,526.5 388.0,535.5 390.0,535.5 391.5,526.5 392.5,526.5 394.0,535.5 396.0,535.5 396.5,527.5 397.5,527.5 399.0,535.5 401.0,535.5 402.0,526.5 403.0,526.5 404.5,535.5 407.5,535.5 408.0,525.5 409.0,527.5 409.5,535.5 410.5,535.5 411.5,525.5 412.5,535.5 414.5,535.5 415.0,527.5 416.5,535.5 418.5,535.5 420.0,513.5 421.5,535.5 423.5,535.5 424.0,532.5 425.0,532.5 426.0,535.5 428.0,535.5 429.5,526.5 431.0,535.5 433.0,535.5 434.5,525.5 435.5,525.5 437.0,535.5 439.0,535.5 440.5,524.5 441.5,525.5 442.0,535.5 444.0,535.5 444.5,515.5 446.0,535.5 448.0,535.5 449.0,531.5 449.5,535.5 450.5,535.5 451.0,527.5 452.0,527.5 453.5,535.5 455.5,535.5 457.0,525.5 458.0,525.5 459.5,535.5 461.5,535.5 463.0,525.5 464.0,527.5 464.5,535.5 466.5,535.5 467.5,524.5 468.5,524.5 469.0,535.5 470.0,535.5 471.5,529.5 472.0,535.5 474.0,535.5 475.0,524.5 476.5,535.5 478.5,535.5 479.5,522.5 481.0,535.5 484.0,535.5 484.5,525.5 485.5,527.5 487.0,535.5 489.0,535.5 489.5,524.5 490.0,535.5 493.0,535.5 493.5,525.5 494.5,535.5 495.5,535.5 496.0,524.5 497.0,526.5 497.5,535.5 498.5,535.5 500.0,526.5 501.0,528.5 501.5,535.5 504.5,535.5 506.0,525.5 507.0,525.5 507.5,535.5 508.5,535.5 509.0,530.5 510.0,531.5 510.5,535.5 512.5,535.5 513.0,524.5 514.0,526.5 515.0,535.5 516.0,535.5 517.5,526.5 518.0,535.5 520.0,535.5 521.5,526.5 522.5,526.5 524.0,535.5 525.0,535.5 526.0,508.5 526.5,535.5 527.5,535.5 528.0,529.5 529.0,529.5 529.5,535.5 531.5,535.5 533.0,526.5 534.5,535.5 535.5,535.5 536.0,524.5 537.0,524.5 537.5,535.5 538.5,535.5 539.0,526.5 540.0,526.5 540.5,535.5 542.5,535.5 544.0,524.5 545.0,535.5 546.0,535.5 547.5,527.5 548.5,528.5 550.0,535.5 552.0,535.5 553.0,525.5 554.0,527.5 555.0,535.5 557.0,535.5 558.0,524.5 559.5,535.5 560.5,535.5 562.0,525.5 563.0,535.5 565.0,535.5 565.5,527.5 566.0,535.5 567.0,535.5 568.5,525.5 570.0,535.5 572.0,535.5 573.0,527.5 574.0,535.5 576.0,535.5 576.5,524.5 578.0,535.5 581.0,535.5 582.0,527.5 583.0,535.5 585.0,535.5 586.5,531.5 587.5,535.5 590.5,535.5 592.0,525.5 593.0,525.5 593.5,535.5 594.5,535.5 596.0,525.5 597.0,525.5 598.0,535.5 600.0,535.5 601.5,526.5 602.5,526.5 603.5,535.5 606.5,535.5 607.0,524.5 608.0,525.5 609.0,535.5 610.0,535.5 611.0,525.5 612.0,535.5 615.0,535.5 616.5,524.5 617.5,526.5 619.0,535.5 621.0,535.5 621.5,526.5 622.5,535.5 625.5,535.5 627.0,526.5 628.0,527.5 629.0,535.5 631.0,535.5 631.5,519.5 633.0,535.5 635.0,535.5 636.0,520.5 637.5,535.5 639.5,535.5 640.0,525.5 641.0,527.5 641.5,535.5 644.5,535.5 645.0,526.5 646.0,527.5 647.5,535.5 649.5,535.5 650.5,524.5 651.5,525.5 652.5,535.5 655.5,535.5 656.5,525.5 657.5,525.5 659.0,535.5 661.0,535.5 661.5,525.5 662.5,535.5 663.5,535.5 664.5,529.5 665.5,531.5 666.5,535.5 667.5,535.5 668.5,529.5 669.5,535.5 672.5,535.5 673.0,526.5 674.0,528.5 674.5,535.5 675.5,535.5 676.5,526.5 677.5,527.5 679.0,535.5 681.0,535.5 681.5,524.5 682.5,524.5 684.0,535.5 685.0,535.5 685.5,532.5 686.5,532.5 688.0,535.5 690.0,535.5 690.5,524.5 691.5,526.5 693.0,535.5 695.0,535.5 696.5,527.5 697.5,528.5 698.0,535.5 699.0,535.5 700.5,530.5 701.5,531.5 702.5,535.5 704.5,535.5 706.0,525.5 707.0,527.5 708.5,535.5 709.5,535.5 710.5,526.5 712.0,535.5 714.0,535.5 714.5,526.5 715.5,527.5 716.5,535.5 719.5,535.5 720.5,526.5 721.5,535.5 723.5,535.5 725.0,527.5 726.0,527.5 727.0,535.5 729.0,535.5 730.0,519.5 731.0,535.5 733.0,535.5 734.0,524.5 735.0,535.5 737.0,535.5 737.5,527.5 738.5,527.5 739.0,535.5 741.0,535.5 742.5,527.5 743.5,527.5 745.0,535.5 747.0,535.5 747.5,525.5 748.5,525.5 749.0,535.5 751.0,535.5 751.5,524.5 752.5,524.5 753.0,535.5 756.0,535.5 757.5,525.5 759.0,535.5 762.0,535.5 763.5,532.5 764.5,532.5 765.5,535.5 767.5,535.5 769.0,525.5 770.0,525.5 771.0,535.5 773.0,535.5 773.5,526.5 775.0,535.5 777.0,535.5 778.0,527.5 779.0,528.5 779.5,535.5 780.5,535.5 782.0,531.5 783.0,532.5 784.5,535.5 787.5,535.5 788.0,530.5 788.5,535.5 789.5,535.5 790.0,525.5 791.0,535.5 792.0,535.5 793.0,525.5 794.0,525.5 794.5,535.5 796.5,535.5 798.0,526.5 798.5,535.5 799.5,535.5 800.0,525.5 801.5,535.5 803.5,535.5 804.5,517.5 805.5,535.5 808.5,535.5 809.0,525.5 810.0,526.5 810.5,535.5 813.5,535.5 814.0,532.5 815.0,534.5 815.5,535.5 816.5,535.5 817.0,513.5 818.0,535.5 820.0,535.5 820.5,525.5 821.5,525.5 822.5,535.5 824.5,535.5 825.5,527.5 826.5,529.5 827.5,535.5 829.5,535.5 830.0,527.5 831.0,529.5 832.0,535.5 833.0,535.5 833.5,526.5 834.5,526.5 836.0,535.5 838.0,535.5 839.0,526.5 840.0,526.5 840.5,535.5 842.5,535.5 843.0,526.5 844.0,526.5 845.0,535.5 847.0,535.5 847.5,526.5 848.0,535.5 850.0,535.5 851.0,524.5 851.5,535.5 853.5,535.5 854.0,527.5 854.5,535.5 856.5,535.5 857.0,527.5 858.0,528.5 858.5,535.5 859.5,535.5 860.5,526.5 861.5,528.5 863.0,535.5 865.0,535.5 866.0,508.5 867.0,535.5 868.0,535.5 868.5,531.5 870.0,535.5 872.0,535.5 872.5,530.5 873.5,530.5 875.0,535.5 877.0,535.5 877.5,527.5 878.5,535.5 879.5,535.5 880.0,525.5 881.5,535.5 882.5,535.5 883.5,532.5 884.0,535.5 886.0,535.5 887.5,524.5 888.5,535.5 890.5,535.5 891.0,525.5 892.5,535.5 894.5,535.5 896.0,525.5 897.5,535.5 898.5,535.5 899.0,530.5 900.0,532.5 901.5,535.5 903.5,535.5 904.5,527.5 905.5,535.5 907.5,535.5 908.0,524.5 909.0,525.5 910.5,535.5 913.5,535.5 914.5,527.5 915.5,527.5 916.0,535.5 919.0,535.5 920.0,525.5 921.0,525.5 921.5,535.5 923.5,535.5 925.0,524.5 926.0,525.5 926.5,535.5 928.5,535.5 929.5,529.5 930.0,535.5 931.0,535.5 932.0,527.5 932.5,535.5 935.5,535.5 936.5,526.5 937.5,527.5 939.0,535.5 942.0,535.5 943.5,525.5 945.0,535.5 947.0,535.5 948.0,526.5 949.0,526.5 949.5,535.5 950.5,535.5 952.0,524.5 953.0,535.5 955.0,535.5 955.5,524.5 956.5,535.5 959.5,535.5 960.5,530.5 961.5,531.5 962.5,535.5 964.5,535.5 966.0,524.5 966.5,535.5 969.5,535.5 970.0,527.5 971.5,535.5 972.5,535.5 973.5,524.5 974.0,535.5 977.0,535.5 978.0,517.5 978.5,535.5 979.5,535.5 980.0,525.5 981.0,525.5 982.0,535.5 984.0,535.5 985.5,525.5 986.5,535.5 987.5,535.5 989.0,524.5 990.0,526.5 991.0,535.5 993.0,535.5 994.0,525.5 995.0,527.5 995.5,535.5 997.5,535.5 999.0,526.5 999.5,535.5 1001.5,535.5 1003.0,526.5 1004.0,526.5 1005.5,535.5 1007.5,535.5 1009.0,525.5 1010.0,526.5 1011.0,535.5 1013.0,535.5 1014.0,524.5 1015.0,525.5 1016.0,535.5 1019.0,535.5 1020.0,524.5 1021.0,526.5 1022.5,535.5 1025.5,535.5 1026.0,525.5 1027.0,527.5 1028.5,535.5 1031.5,535.5 1032.5,525.5 1033.5,527.5 1035.0,535.5 1037.0,535.5 1038.0,527.5 1039.0,527.5 1039.5,535.5 1041.5,535.5 1042.5,525.5 1043.0,535.5 1044.0,535.5 1045.5,524.5 1046.5,525.5 1047.0,535.5 1049.0,535.5 1050.0,527.5 1051.0,528.5 1052.0,535.5 1055.0,535.5 1056.0,525.5 1057.5,535.5 1059.5,535.5 1061.0,524.5 1062.0,535.5 1064.0,535.5 1065.0,527.5 1066.0,527.5 1067.5,535.5 1069.5,535.5 1070.0,524.5 1071.0,525.5 1072.5,535.5 1074.5,535.5 1076.0,531.5 1077.0,532.5 1077.5,535.5 1080.5,535.5 1082.0,526.5 1083.5,535.5 1086.5,535.5 1088.0,525.5 1089.0,526.5 1090.5,535.5 1092.5,535.5 1093.0,525.5 1094.0,525.5 1095.0,535.5 1096.0,535.5 1096.5,527.5 1097.5,535.5 1099.5,535.5 1100.0,512.5 1101.0,535.5 1103.0,535.5 1104.5,524.5 1105.5,524.5 1106.0,535.5 1109.0,535.5 1110.0,531.5 1111.0,535.5 1113.0,535.5 1113.5,526.5 1114.5,526.5 1115.5,535.5 1116.5,535.5 1117.0,526.5 1118.0,535.5 1121.0,535.5 1122.5,525.5 1123.5,525.5 1124.5,535.5 1127.5,535.5 1128.0,524.5 1128.5,535.5 1130.5,535.5 1132.0,525.5 1132.5,535.5 1135.5,535.5 1136.5,524.5 1138.0,535.5 1141.0,535.5 1141.5,531.5 1142.5,532.5 1143.0,535.5 1144.0,535.5 1145.0,527.5 1146.5,535.5 1148.5,535.5 1150.0,526.5 1151.0,535.5 1152.0,535.5 1152.5,527.5 1153.5,529.5 1154.0,535.5 1156.0,535.5 1157.5,526.5 1158.5,535.5 1160.5,535.5 1162.0,531.5 1163.0,531.5 1164.5,535.5 1167.5,535.5 1168.0,525.5 1169.0,535.5 1172.0,535.5 1173.0,527.5 1174.0,535.5 1176.0,535.5 1177.5,525.5 1178.5,526.5 1179.5,535.5 1180.5,535.5 1182.0,526.5 1183.0,528.5 1184.5,535.5 1187.5,535.5 1188.0,529.5 1189.0,529.5 1189.5,535.5 1192.5,535.5 1193.0,509.5 1194.0,535.5 1195.0,535.5 1196.0,527.5 1197.0,529.5 1198.0,535.5 1200.0,535.5 1201.0,519.5 1202.0,535.5 1203.0,535.5 1203.5,531.5 1204.5,533.5 1205.0,535.5 1206.0,535.5 1207.0,526.5 1208.5,535.5 1210.5,535.5 1212.0,524.5 1213.5,535.5 1215.5,535.5 1217.0,529.5 1218.0,529.5 1218.5,535.5 1219.5,535.5 1221.0,526.5 1222.5,535.5 1223.5,535.5 1224.0,526.5 1225.0,526.5 1226.0,535.5 1228.0,535.5 1229.5,526.5 1230.5,528.5 1231.5,535.5 1232.5,535.5 1233.5,532.5 1234.0,535.5 1235.0,535.5 1236.5,531.5 1237.5,531.5 1239.0,535.5 1242.0,535.5 1242.5,527.5 1244.0,535.5 1245.0,535.5 1246.5,527.5 1247.5,528.5 1248.5,535.5 1251.5,535.5 1252.0,526.5 1253.0,528.5 1253.5,535.5 1254.5,535.5 1256.0,526.5 1257.0,526.5 1258.5,535.5 1259.5,535.5 1261.0,525.5 1262.0,525.5 1262.5,535.5 1263.5,535.5 1264.5,525.5 1265.0,535.5 1268.0,535.5 1268.5,525.5 1269.5,525.5 1270.0,535.5 1271.0,535.5 1272.5,526.5 1273.5,528.5 1275.0,535.5 1277.0,535.5 1277.5,527.5 1279.0,535.5 1280.0,535.5 1281.0,526.5 1281.5,535.5 1283.5,535.5 1284.5,525.5 1285.5,525.5 1286.5,535.5 1288.5,535.5 1289.5,527.5 1290.5,527.5 1291.5,535.5 1293.5,535.5 1295.0,524.5 1296.0,535.5 1298.0,535.5 1299.0,527.5 1300.0,528.5 1300.5,535.5 1302.5,535.5 1303.0,525.5 1303.5,535.5 1305.5,535.5 1306.0,526.5 1307.0,527.5 1308.0,535.5 1310.0,535.5 1311.0,527.5 1312.0,527.5 1313.5,535.5 1315.5,535.5 1317.0,524.5 1318.5,535.5 1319.5,535.5 1320.5,526.5 1321.0,535.5 1323.0,535.5 1323.5,527.5 1325.0,535.5 1327.0,535.5 1328.0,525.5 1329.0,526.5 1329.5,535.5 1330.5,535.5 1332.0,526.5 1333.0,526.5 1334.5,535.5 1335.5,535.5 1336.5,524.5 1337.5,524.5 1339.0,535.5 1340.0,535.5 1340.5,532.5 1341.5,534.5 1343.0,535.5 1345.0,535.5 1345.5,524.5 1346.5,535.5 1348.5,535.5 1349.5,526.5 1350.0,535.5 1353.0,535.5 1353.5,526.5 1354.5,526.5 1355.0,535.5 1357.0,535.5 1358.0,525.5 1358.5,535.5 1359.5,535.5 1361.0,526.5 1362.0,535.5 1364.0,535.5 1365.0,531.5 1366.0,531.5 1367.0,535.5 1369.0,535.5 1369.5,526.5 1369.5,526.5 1369.5,535.5" fill="none" stroke="#56b4e9" stroke-width="1.0" stroke-linejoin="miter"/>
<path d="M233.3,537.5L233.5,304.5L234.5,537.5" stroke="#9400d3" stroke-width="1.1" fill="none" shape-rendering="auto"/>
<path d="M200.85,401.8L209.45,415.0L192.25,415.0Z" fill="#9400d3"/>
<path d="M253.975,401.8L262.575,415.0L245.375,415.0Z" fill="#9400d3"/>
<path d="M360.225,401.8L368.82500000000005,415.0L351.625,415.0Z" fill="#9400d3"/>
<path d="M413.35,401.8L421.95000000000005,415.0L404.75,415.0Z" fill="#9400d3"/>
<path d="M466.475,401.8L475.07500000000005,415.0L457.875,415.0Z" fill="#9400d3"/>
<path d="M519.6,401.8L528.2,415.0L511.0,415.0Z" fill="#9400d3"/>
<path d="M572.725,401.8L581.325,415.0L564.125,415.0Z" fill="#9400d3"/>
<path d="M678.975,401.8L687.575,415.0L670.375,415.0Z" fill="#9400d3"/>
<path d="M732.1,401.8L740.7,415.0L723.5,415.0Z" fill="#9400d3"/>
<path d="M785.225,401.8L793.825,415.0L776.625,415.0Z" fill="#9400d3"/>
<path d="M838.35,401.8L846.95,415.0L829.75,415.0Z" fill="#9400d3"/>
<path d="M891.475,401.8L900.075,415.0L882.875,415.0Z" fill="#9400d3"/>
<path d="M944.6,401.8L953.2,415.0L936.0,415.0Z" fill="#9400d3"/>
<path d="M997.725,401.8L1006.325,415.0L989.125,415.0Z" fill="#9400d3"/>
<path d="M1050.85,401.8L1059.4499999999998,415.0L1042.25,415.0Z" fill="#9400d3"/>
<path d="M1103.975,401.8L1112.5749999999998,415.0L1095.375,415.0Z" fill="#9400d3"/>
<path d="M1157.1,401.8L1165.6999999999998,415.0L1148.5,415.0Z" fill="#9400d3"/>
<path d="M1210.225,401.8L1218.8249999999998,415.0L1201.625,415.0Z" fill="#9400d3"/>
<path d="M1263.35,401.8L1271.9499999999998,415.0L1254.75,415.0Z" fill="#9400d3"/>
<path d="M1316.475,401.8L1325.0749999999998,415.0L1307.875,415.0Z" fill="#9400d3"/>
<path d="M398,456.9L406.1,468.5L389.9,468.5Z" fill="none" stroke="#000" stroke-width="1.15"/>
<path d="M810.5,456.9L818.6,468.5L802.4,468.5Z" fill="none" stroke="#000" stroke-width="1.15"/>
<rect x="1177.9" y="480.8" width="13" height="13" fill="#f0e442"/>
<path d="M96,505h1v1h-1zM93,506h7v1h-7zM92,507h2v1h-2zM99,507h2v1h-2zM91,508h2v1h-2zM100,508h2v1h-2zM91,509h1v1h-1zM101,509h1v1h-1zM91,510h1v1h-1zM101,510h1v1h-1zM90,511h2v1h-2zM101,511h2v1h-2zM91,512h1v1h-1zM101,512h1v1h-1zM91,513h1v1h-1zM101,513h1v1h-1zM91,514h2v1h-2zM100,514h2v1h-2zM92,515h2v1h-2zM99,515h2v1h-2zM93,516h7v1h-7zM96,517h1v1h-1z" fill="#0072b2"/>
<path d="M143,434h1v1h-1zM140,435h7v1h-7zM139,436h2v1h-2zM146,436h2v1h-2zM138,437h2v1h-2zM147,437h2v1h-2zM138,438h1v1h-1zM148,438h1v1h-1zM138,439h1v1h-1zM148,439h1v1h-1zM137,440h2v1h-2zM148,440h2v1h-2zM138,441h1v1h-1zM148,441h1v1h-1zM138,442h1v1h-1zM148,442h1v1h-1zM138,443h2v1h-2zM147,443h2v1h-2zM139,444h2v1h-2zM146,444h2v1h-2zM140,445h7v1h-7zM143,446h1v1h-1z" fill="#0072b2"/>
<path d="M202,515h1v1h-1zM199,516h7v1h-7zM198,517h2v1h-2zM205,517h2v1h-2zM197,518h2v1h-2zM206,518h2v1h-2zM197,519h1v1h-1zM207,519h1v1h-1zM197,520h1v1h-1zM207,520h1v1h-1zM196,521h2v1h-2zM207,521h2v1h-2zM197,522h1v1h-1zM207,522h1v1h-1zM197,523h1v1h-1zM207,523h1v1h-1zM197,524h2v1h-2zM206,524h2v1h-2zM198,525h2v1h-2zM205,525h2v1h-2zM199,526h7v1h-7zM202,527h1v1h-1z" fill="#0072b2"/>
<path d="M249,491h1v1h-1zM246,492h7v1h-7zM245,493h2v1h-2zM252,493h2v1h-2zM244,494h2v1h-2zM253,494h2v1h-2zM244,495h1v1h-1zM254,495h1v1h-1zM244,496h1v1h-1zM254,496h1v1h-1zM243,497h2v1h-2zM254,497h2v1h-2zM244,498h1v1h-1zM254,498h1v1h-1zM244,499h1v1h-1zM254,499h1v1h-1zM244,500h2v1h-2zM253,500h2v1h-2zM245,501h2v1h-2zM252,501h2v1h-2zM246,502h7v1h-7zM249,503h1v1h-1z" fill="#0072b2"/>
<path d="M255,507h1v1h-1zM252,508h7v1h-7zM251,509h2v1h-2zM258,509h2v1h-2zM250,510h2v1h-2zM259,510h2v1h-2zM250,511h1v1h-1zM260,511h1v1h-1zM250,512h1v1h-1zM260,512h1v1h-1zM249,513h2v1h-2zM260,513h2v1h-2zM250,514h1v1h-1zM260,514h1v1h-1zM250,515h1v1h-1zM260,515h1v1h-1zM250,516h2v1h-2zM259,516h2v1h-2zM251,517h2v1h-2zM258,517h2v1h-2zM252,518h7v1h-7zM255,519h1v1h-1z" fill="#0072b2"/>
<path d="M302,514h1v1h-1zM299,515h7v1h-7zM298,516h2v1h-2zM305,516h2v1h-2zM297,517h2v1h-2zM306,517h2v1h-2zM297,518h1v1h-1zM307,518h1v1h-1zM297,519h1v1h-1zM307,519h1v1h-1zM296,520h2v1h-2zM307,520h2v1h-2zM297,521h1v1h-1zM307,521h1v1h-1zM297,522h1v1h-1zM307,522h1v1h-1zM297,523h2v1h-2zM306,523h2v1h-2zM298,524h2v1h-2zM305,524h2v1h-2zM299,525h7v1h-7zM302,526h1v1h-1z" fill="#0072b2"/>
<path d="M308,508h1v1h-1zM305,509h7v1h-7zM304,510h2v1h-2zM311,510h2v1h-2zM303,511h2v1h-2zM312,511h2v1h-2zM303,512h1v1h-1zM313,512h1v1h-1zM303,513h1v1h-1zM313,513h1v1h-1zM302,514h2v1h-2zM313,514h2v1h-2zM303,515h1v1h-1zM313,515h1v1h-1zM303,516h1v1h-1zM313,516h1v1h-1zM303,517h2v1h-2zM312,517h2v1h-2zM304,518h2v1h-2zM311,518h2v1h-2zM305,519h7v1h-7zM308,520h1v1h-1z" fill="#0072b2"/>
<path d="M354,490h1v1h-1zM351,491h7v1h-7zM350,492h2v1h-2zM357,492h2v1h-2zM349,493h2v1h-2zM358,493h2v1h-2zM349,494h1v1h-1zM359,494h1v1h-1zM349,495h1v1h-1zM359,495h1v1h-1zM348,496h2v1h-2zM359,496h2v1h-2zM349,497h1v1h-1zM359,497h1v1h-1zM349,498h1v1h-1zM359,498h1v1h-1zM349,499h2v1h-2zM358,499h2v1h-2zM350,500h2v1h-2zM357,500h2v1h-2zM351,501h7v1h-7zM354,502h1v1h-1z" fill="#0072b2"/>
<path d="M361,490h1v1h-1zM358,491h7v1h-7zM357,492h2v1h-2zM364,492h2v1h-2zM356,493h2v1h-2zM365,493h2v1h-2zM356,494h1v1h-1zM366,494h1v1h-1zM356,495h1v1h-1zM366,495h1v1h-1zM355,496h2v1h-2zM366,496h2v1h-2zM356,497h1v1h-1zM366,497h1v1h-1zM356,498h1v1h-1zM366,498h1v1h-1zM356,499h2v1h-2zM365,499h2v1h-2zM357,500h2v1h-2zM364,500h2v1h-2zM358,501h7v1h-7zM361,502h1v1h-1z" fill="#0072b2"/>
<path d="M408,515h1v1h-1zM405,516h7v1h-7zM404,517h2v1h-2zM411,517h2v1h-2zM403,518h2v1h-2zM412,518h2v1h-2zM403,519h1v1h-1zM413,519h1v1h-1zM403,520h1v1h-1zM413,520h1v1h-1zM402,521h2v1h-2zM413,521h2v1h-2zM403,522h1v1h-1zM413,522h1v1h-1zM403,523h1v1h-1zM413,523h1v1h-1zM403,524h2v1h-2zM412,524h2v1h-2zM404,525h2v1h-2zM411,525h2v1h-2zM405,526h7v1h-7zM408,527h1v1h-1z" fill="#0072b2"/>
<path d="M415,492h1v1h-1zM412,493h7v1h-7zM411,494h2v1h-2zM418,494h2v1h-2zM410,495h2v1h-2zM419,495h2v1h-2zM410,496h1v1h-1zM420,496h1v1h-1zM410,497h1v1h-1zM420,497h1v1h-1zM409,498h2v1h-2zM420,498h2v1h-2zM410,499h1v1h-1zM420,499h1v1h-1zM410,500h1v1h-1zM420,500h1v1h-1zM410,501h2v1h-2zM419,501h2v1h-2zM411,502h2v1h-2zM418,502h2v1h-2zM412,503h7v1h-7zM415,504h1v1h-1z" fill="#0072b2"/>
<path d="M461,514h1v1h-1zM458,515h7v1h-7zM457,516h2v1h-2zM464,516h2v1h-2zM456,517h2v1h-2zM465,517h2v1h-2zM456,518h1v1h-1zM466,518h1v1h-1zM456,519h1v1h-1zM466,519h1v1h-1zM455,520h2v1h-2zM466,520h2v1h-2zM456,521h1v1h-1zM466,521h1v1h-1zM456,522h1v1h-1zM466,522h1v1h-1zM456,523h2v1h-2zM465,523h2v1h-2zM457,524h2v1h-2zM464,524h2v1h-2zM458,525h7v1h-7zM461,526h1v1h-1z" fill="#0072b2"/>
<path d="M468,506h1v1h-1zM465,507h7v1h-7zM464,508h2v1h-2zM471,508h2v1h-2zM463,509h2v1h-2zM472,509h2v1h-2zM463,510h1v1h-1zM473,510h1v1h-1zM463,511h1v1h-1zM473,511h1v1h-1zM462,512h2v1h-2zM473,512h2v1h-2zM463,513h1v1h-1zM473,513h1v1h-1zM463,514h1v1h-1zM473,514h1v1h-1zM463,515h2v1h-2zM472,515h2v1h-2zM464,516h2v1h-2zM471,516h2v1h-2zM465,517h7v1h-7zM468,518h1v1h-1z" fill="#0072b2"/>
<path d="M515,506h1v1h-1zM512,507h7v1h-7zM511,508h2v1h-2zM518,508h2v1h-2zM510,509h2v1h-2zM519,509h2v1h-2zM510,510h1v1h-1zM520,510h1v1h-1zM510,511h1v1h-1zM520,511h1v1h-1zM509,512h2v1h-2zM520,512h2v1h-2zM510,513h1v1h-1zM520,513h1v1h-1zM510,514h1v1h-1zM520,514h1v1h-1zM510,515h2v1h-2zM519,515h2v1h-2zM511,516h2v1h-2zM518,516h2v1h-2zM512,517h7v1h-7zM515,518h1v1h-1z" fill="#0072b2"/>
<path d="M521,515h1v1h-1zM518,516h7v1h-7zM517,517h2v1h-2zM524,517h2v1h-2zM516,518h2v1h-2zM525,518h2v1h-2zM516,519h1v1h-1zM526,519h1v1h-1zM516,520h1v1h-1zM526,520h1v1h-1zM515,521h2v1h-2zM526,521h2v1h-2zM516,522h1v1h-1zM526,522h1v1h-1zM516,523h1v1h-1zM526,523h1v1h-1zM516,524h2v1h-2zM525,524h2v1h-2zM517,525h2v1h-2zM524,525h2v1h-2zM518,526h7v1h-7zM521,527h1v1h-1z" fill="#0072b2"/>
<path d="M568,507h1v1h-1zM565,508h7v1h-7zM564,509h2v1h-2zM571,509h2v1h-2zM563,510h2v1h-2zM572,510h2v1h-2zM563,511h1v1h-1zM573,511h1v1h-1zM563,512h1v1h-1zM573,512h1v1h-1zM562,513h2v1h-2zM573,513h2v1h-2zM563,514h1v1h-1zM573,514h1v1h-1zM563,515h1v1h-1zM573,515h1v1h-1zM563,516h2v1h-2zM572,516h2v1h-2zM564,517h2v1h-2zM571,517h2v1h-2zM565,518h7v1h-7zM568,519h1v1h-1z" fill="#0072b2"/>
<path d="M574,508h1v1h-1zM571,509h7v1h-7zM570,510h2v1h-2zM577,510h2v1h-2zM569,511h2v1h-2zM578,511h2v1h-2zM569,512h1v1h-1zM579,512h1v1h-1zM569,513h1v1h-1zM579,513h1v1h-1zM568,514h2v1h-2zM579,514h2v1h-2zM569,515h1v1h-1zM579,515h1v1h-1zM569,516h1v1h-1zM579,516h1v1h-1zM569,517h2v1h-2zM578,517h2v1h-2zM570,518h2v1h-2zM577,518h2v1h-2zM571,519h7v1h-7zM574,520h1v1h-1z" fill="#0072b2"/>
<path d="M621,515h1v1h-1zM618,516h7v1h-7zM617,517h2v1h-2zM624,517h2v1h-2zM616,518h2v1h-2zM625,518h2v1h-2zM616,519h1v1h-1zM626,519h1v1h-1zM616,520h1v1h-1zM626,520h1v1h-1zM615,521h2v1h-2zM626,521h2v1h-2zM616,522h1v1h-1zM626,522h1v1h-1zM616,523h1v1h-1zM626,523h1v1h-1zM616,524h2v1h-2zM625,524h2v1h-2zM617,525h2v1h-2zM624,525h2v1h-2zM618,526h7v1h-7zM621,527h1v1h-1z" fill="#0072b2"/>
<path d="M627,506h1v1h-1zM624,507h7v1h-7zM623,508h2v1h-2zM630,508h2v1h-2zM622,509h2v1h-2zM631,509h2v1h-2zM622,510h1v1h-1zM632,510h1v1h-1zM622,511h1v1h-1zM632,511h1v1h-1zM621,512h2v1h-2zM632,512h2v1h-2zM622,513h1v1h-1zM632,513h1v1h-1zM622,514h1v1h-1zM632,514h1v1h-1zM622,515h2v1h-2zM631,515h2v1h-2zM623,516h2v1h-2zM630,516h2v1h-2zM624,517h7v1h-7zM627,518h1v1h-1z" fill="#0072b2"/>
<path d="M674,489h1v1h-1zM671,490h7v1h-7zM670,491h2v1h-2zM677,491h2v1h-2zM669,492h2v1h-2zM678,492h2v1h-2zM669,493h1v1h-1zM679,493h1v1h-1zM669,494h1v1h-1zM679,494h1v1h-1zM668,495h2v1h-2zM679,495h2v1h-2zM669,496h1v1h-1zM679,496h1v1h-1zM669,497h1v1h-1zM679,497h1v1h-1zM669,498h2v1h-2zM678,498h2v1h-2zM670,499h2v1h-2zM677,499h2v1h-2zM671,500h7v1h-7zM674,501h1v1h-1z" fill="#0072b2"/>
<path d="M680,514h1v1h-1zM677,515h7v1h-7zM676,516h2v1h-2zM683,516h2v1h-2zM675,517h2v1h-2zM684,517h2v1h-2zM675,518h1v1h-1zM685,518h1v1h-1zM675,519h1v1h-1zM685,519h1v1h-1zM674,520h2v1h-2zM685,520h2v1h-2zM675,521h1v1h-1zM685,521h1v1h-1zM675,522h1v1h-1zM685,522h1v1h-1zM675,523h2v1h-2zM684,523h2v1h-2zM676,524h2v1h-2zM683,524h2v1h-2zM677,525h7v1h-7zM680,526h1v1h-1z" fill="#0072b2"/>
<path d="M727,505h1v1h-1zM724,506h7v1h-7zM723,507h2v1h-2zM730,507h2v1h-2zM722,508h2v1h-2zM731,508h2v1h-2zM722,509h1v1h-1zM732,509h1v1h-1zM722,510h1v1h-1zM732,510h1v1h-1zM721,511h2v1h-2zM732,511h2v1h-2zM722,512h1v1h-1zM732,512h1v1h-1zM722,513h1v1h-1zM732,513h1v1h-1zM722,514h2v1h-2zM731,514h2v1h-2zM723,515h2v1h-2zM730,515h2v1h-2zM724,516h7v1h-7zM727,517h1v1h-1z" fill="#0072b2"/>
<path d="M733,514h1v1h-1zM730,515h7v1h-7zM729,516h2v1h-2zM736,516h2v1h-2zM728,517h2v1h-2zM737,517h2v1h-2zM728,518h1v1h-1zM738,518h1v1h-1zM728,519h1v1h-1zM738,519h1v1h-1zM727,520h2v1h-2zM738,520h2v1h-2zM728,521h1v1h-1zM738,521h1v1h-1zM728,522h1v1h-1zM738,522h1v1h-1zM728,523h2v1h-2zM737,523h2v1h-2zM729,524h2v1h-2zM736,524h2v1h-2zM730,525h7v1h-7zM733,526h1v1h-1z" fill="#0072b2"/>
<path d="M780,512h1v1h-1zM777,513h7v1h-7zM776,514h2v1h-2zM783,514h2v1h-2zM775,515h2v1h-2zM784,515h2v1h-2zM775,516h1v1h-1zM785,516h1v1h-1zM775,517h1v1h-1zM785,517h1v1h-1zM774,518h2v1h-2zM785,518h2v1h-2zM775,519h1v1h-1zM785,519h1v1h-1zM775,520h1v1h-1zM785,520h1v1h-1zM775,521h2v1h-2zM784,521h2v1h-2zM776,522h2v1h-2zM783,522h2v1h-2zM777,523h7v1h-7zM780,524h1v1h-1z" fill="#0072b2"/>
<path d="M786,507h1v1h-1zM783,508h7v1h-7zM782,509h2v1h-2zM789,509h2v1h-2zM781,510h2v1h-2zM790,510h2v1h-2zM781,511h1v1h-1zM791,511h1v1h-1zM781,512h1v1h-1zM791,512h1v1h-1zM780,513h2v1h-2zM791,513h2v1h-2zM781,514h1v1h-1zM791,514h1v1h-1zM781,515h1v1h-1zM791,515h1v1h-1zM781,516h2v1h-2zM790,516h2v1h-2zM782,517h2v1h-2zM789,517h2v1h-2zM783,518h7v1h-7zM786,519h1v1h-1z" fill="#0072b2"/>
<path d="M833,508h1v1h-1zM830,509h7v1h-7zM829,510h2v1h-2zM836,510h2v1h-2zM828,511h2v1h-2zM837,511h2v1h-2zM828,512h1v1h-1zM838,512h1v1h-1zM828,513h1v1h-1zM838,513h1v1h-1zM827,514h2v1h-2zM838,514h2v1h-2zM828,515h1v1h-1zM838,515h1v1h-1zM828,516h1v1h-1zM838,516h1v1h-1zM828,517h2v1h-2zM837,517h2v1h-2zM829,518h2v1h-2zM836,518h2v1h-2zM830,519h7v1h-7zM833,520h1v1h-1z" fill="#0072b2"/>
<path d="M840,501h1v1h-1zM837,502h7v1h-7zM836,503h2v1h-2zM843,503h2v1h-2zM835,504h2v1h-2zM844,504h2v1h-2zM835,505h1v1h-1zM845,505h1v1h-1zM835,506h1v1h-1zM845,506h1v1h-1zM834,507h2v1h-2zM845,507h2v1h-2zM835,508h1v1h-1zM845,508h1v1h-1zM835,509h1v1h-1zM845,509h1v1h-1zM835,510h2v1h-2zM844,510h2v1h-2zM836,511h2v1h-2zM843,511h2v1h-2zM837,512h7v1h-7zM840,513h1v1h-1z" fill="#0072b2"/>
<path d="M886,512h1v1h-1zM883,513h7v1h-7zM882,514h2v1h-2zM889,514h2v1h-2zM881,515h2v1h-2zM890,515h2v1h-2zM881,516h1v1h-1zM891,516h1v1h-1zM881,517h1v1h-1zM891,517h1v1h-1zM880,518h2v1h-2zM891,518h2v1h-2zM881,519h1v1h-1zM891,519h1v1h-1zM881,520h1v1h-1zM891,520h1v1h-1zM881,521h2v1h-2zM890,521h2v1h-2zM882,522h2v1h-2zM889,522h2v1h-2zM883,523h7v1h-7zM886,524h1v1h-1z" fill="#0072b2"/>
<path d="M893,466h1v1h-1zM890,467h7v1h-7zM889,468h2v1h-2zM896,468h2v1h-2zM888,469h2v1h-2zM897,469h2v1h-2zM888,470h1v1h-1zM898,470h1v1h-1zM888,471h1v1h-1zM898,471h1v1h-1zM887,472h2v1h-2zM898,472h2v1h-2zM888,473h1v1h-1zM898,473h1v1h-1zM888,474h1v1h-1zM898,474h1v1h-1zM888,475h2v1h-2zM897,475h2v1h-2zM889,476h2v1h-2zM896,476h2v1h-2zM890,477h7v1h-7zM893,478h1v1h-1z" fill="#0072b2"/>
<path d="M940,505h1v1h-1zM937,506h7v1h-7zM936,507h2v1h-2zM943,507h2v1h-2zM935,508h2v1h-2zM944,508h2v1h-2zM935,509h1v1h-1zM945,509h1v1h-1zM935,510h1v1h-1zM945,510h1v1h-1zM934,511h2v1h-2zM945,511h2v1h-2zM935,512h1v1h-1zM945,512h1v1h-1zM935,513h1v1h-1zM945,513h1v1h-1zM935,514h2v1h-2zM944,514h2v1h-2zM936,515h2v1h-2zM943,515h2v1h-2zM937,516h7v1h-7zM940,517h1v1h-1z" fill="#0072b2"/>
<path d="M946,504h1v1h-1zM943,505h7v1h-7zM942,506h2v1h-2zM949,506h2v1h-2zM941,507h2v1h-2zM950,507h2v1h-2zM941,508h1v1h-1zM951,508h1v1h-1zM941,509h1v1h-1zM951,509h1v1h-1zM940,510h2v1h-2zM951,510h2v1h-2zM941,511h1v1h-1zM951,511h1v1h-1zM941,512h1v1h-1zM951,512h1v1h-1zM941,513h2v1h-2zM950,513h2v1h-2zM942,514h2v1h-2zM949,514h2v1h-2zM943,515h7v1h-7zM946,516h1v1h-1z" fill="#0072b2"/>
<path d="M993,506h1v1h-1zM990,507h7v1h-7zM989,508h2v1h-2zM996,508h2v1h-2zM988,509h2v1h-2zM997,509h2v1h-2zM988,510h1v1h-1zM998,510h1v1h-1zM988,511h1v1h-1zM998,511h1v1h-1zM987,512h2v1h-2zM998,512h2v1h-2zM988,513h1v1h-1zM998,513h1v1h-1zM988,514h1v1h-1zM998,514h1v1h-1zM988,515h2v1h-2zM997,515h2v1h-2zM989,516h2v1h-2zM996,516h2v1h-2zM990,517h7v1h-7zM993,518h1v1h-1z" fill="#0072b2"/>
<path d="M999,454h1v1h-1zM996,455h7v1h-7zM995,456h2v1h-2zM1002,456h2v1h-2zM994,457h2v1h-2zM1003,457h2v1h-2zM994,458h1v1h-1zM1004,458h1v1h-1zM994,459h1v1h-1zM1004,459h1v1h-1zM993,460h2v1h-2zM1004,460h2v1h-2zM994,461h1v1h-1zM1004,461h1v1h-1zM994,462h1v1h-1zM1004,462h1v1h-1zM994,463h2v1h-2zM1003,463h2v1h-2zM995,464h2v1h-2zM1002,464h2v1h-2zM996,465h7v1h-7zM999,466h1v1h-1z" fill="#0072b2"/>
<path d="M1046,512h1v1h-1zM1043,513h7v1h-7zM1042,514h2v1h-2zM1049,514h2v1h-2zM1041,515h2v1h-2zM1050,515h2v1h-2zM1041,516h1v1h-1zM1051,516h1v1h-1zM1041,517h1v1h-1zM1051,517h1v1h-1zM1040,518h2v1h-2zM1051,518h2v1h-2zM1041,519h1v1h-1zM1051,519h1v1h-1zM1041,520h1v1h-1zM1051,520h1v1h-1zM1041,521h2v1h-2zM1050,521h2v1h-2zM1042,522h2v1h-2zM1049,522h2v1h-2zM1043,523h7v1h-7zM1046,524h1v1h-1z" fill="#0072b2"/>
<path d="M1052,503h1v1h-1zM1049,504h7v1h-7zM1048,505h2v1h-2zM1055,505h2v1h-2zM1047,506h2v1h-2zM1056,506h2v1h-2zM1047,507h1v1h-1zM1057,507h1v1h-1zM1047,508h1v1h-1zM1057,508h1v1h-1zM1046,509h2v1h-2zM1057,509h2v1h-2zM1047,510h1v1h-1zM1057,510h1v1h-1zM1047,511h1v1h-1zM1057,511h1v1h-1zM1047,512h2v1h-2zM1056,512h2v1h-2zM1048,513h2v1h-2zM1055,513h2v1h-2zM1049,514h7v1h-7zM1052,515h1v1h-1z" fill="#0072b2"/>
<path d="M1099,459h1v1h-1zM1096,460h7v1h-7zM1095,461h2v1h-2zM1102,461h2v1h-2zM1094,462h2v1h-2zM1103,462h2v1h-2zM1094,463h1v1h-1zM1104,463h1v1h-1zM1094,464h1v1h-1zM1104,464h1v1h-1zM1093,465h2v1h-2zM1104,465h2v1h-2zM1094,466h1v1h-1zM1104,466h1v1h-1zM1094,467h1v1h-1zM1104,467h1v1h-1zM1094,468h2v1h-2zM1103,468h2v1h-2zM1095,469h2v1h-2zM1102,469h2v1h-2zM1096,470h7v1h-7zM1099,471h1v1h-1z" fill="#0072b2"/>
<path d="M1105,504h1v1h-1zM1102,505h7v1h-7zM1101,506h2v1h-2zM1108,506h2v1h-2zM1100,507h2v1h-2zM1109,507h2v1h-2zM1100,508h1v1h-1zM1110,508h1v1h-1zM1100,509h1v1h-1zM1110,509h1v1h-1zM1099,510h2v1h-2zM1110,510h2v1h-2zM1100,511h1v1h-1zM1110,511h1v1h-1zM1100,512h1v1h-1zM1110,512h1v1h-1zM1100,513h2v1h-2zM1109,513h2v1h-2zM1101,514h2v1h-2zM1108,514h2v1h-2zM1102,515h7v1h-7zM1105,516h1v1h-1z" fill="#0072b2"/>
<path d="M1152,514h1v1h-1zM1149,515h7v1h-7zM1148,516h2v1h-2zM1155,516h2v1h-2zM1147,517h2v1h-2zM1156,517h2v1h-2zM1147,518h1v1h-1zM1157,518h1v1h-1zM1147,519h1v1h-1zM1157,519h1v1h-1zM1146,520h2v1h-2zM1157,520h2v1h-2zM1147,521h1v1h-1zM1157,521h1v1h-1zM1147,522h1v1h-1zM1157,522h1v1h-1zM1147,523h2v1h-2zM1156,523h2v1h-2zM1148,524h2v1h-2zM1155,524h2v1h-2zM1149,525h7v1h-7zM1152,526h1v1h-1z" fill="#0072b2"/>
<path d="M1158,511h1v1h-1zM1155,512h7v1h-7zM1154,513h2v1h-2zM1161,513h2v1h-2zM1153,514h2v1h-2zM1162,514h2v1h-2zM1153,515h1v1h-1zM1163,515h1v1h-1zM1153,516h1v1h-1zM1163,516h1v1h-1zM1152,517h2v1h-2zM1163,517h2v1h-2zM1153,518h1v1h-1zM1163,518h1v1h-1zM1153,519h1v1h-1zM1163,519h1v1h-1zM1153,520h2v1h-2zM1162,520h2v1h-2zM1154,521h2v1h-2zM1161,521h2v1h-2zM1155,522h7v1h-7zM1158,523h1v1h-1z" fill="#0072b2"/>
<path d="M1205,513h1v1h-1zM1202,514h7v1h-7zM1201,515h2v1h-2zM1208,515h2v1h-2zM1200,516h2v1h-2zM1209,516h2v1h-2zM1200,517h1v1h-1zM1210,517h1v1h-1zM1200,518h1v1h-1zM1210,518h1v1h-1zM1199,519h2v1h-2zM1210,519h2v1h-2zM1200,520h1v1h-1zM1210,520h1v1h-1zM1200,521h1v1h-1zM1210,521h1v1h-1zM1200,522h2v1h-2zM1209,522h2v1h-2zM1201,523h2v1h-2zM1208,523h2v1h-2zM1202,524h7v1h-7zM1205,525h1v1h-1z" fill="#0072b2"/>
<path d="M1211,513h1v1h-1zM1208,514h7v1h-7zM1207,515h2v1h-2zM1214,515h2v1h-2zM1206,516h2v1h-2zM1215,516h2v1h-2zM1206,517h1v1h-1zM1216,517h1v1h-1zM1206,518h1v1h-1zM1216,518h1v1h-1zM1205,519h2v1h-2zM1216,519h2v1h-2zM1206,520h1v1h-1zM1216,520h1v1h-1zM1206,521h1v1h-1zM1216,521h1v1h-1zM1206,522h2v1h-2zM1215,522h2v1h-2zM1207,523h2v1h-2zM1214,523h2v1h-2zM1208,524h7v1h-7zM1211,525h1v1h-1z" fill="#0072b2"/>
<path d="M1258,491h1v1h-1zM1255,492h7v1h-7zM1254,493h2v1h-2zM1261,493h2v1h-2zM1253,494h2v1h-2zM1262,494h2v1h-2zM1253,495h1v1h-1zM1263,495h1v1h-1zM1253,496h1v1h-1zM1263,496h1v1h-1zM1252,497h2v1h-2zM1263,497h2v1h-2zM1253,498h1v1h-1zM1263,498h1v1h-1zM1253,499h1v1h-1zM1263,499h1v1h-1zM1253,500h2v1h-2zM1262,500h2v1h-2zM1254,501h2v1h-2zM1261,501h2v1h-2zM1255,502h7v1h-7zM1258,503h1v1h-1z" fill="#0072b2"/>
<path d="M1265,505h1v1h-1zM1262,506h7v1h-7zM1261,507h2v1h-2zM1268,507h2v1h-2zM1260,508h2v1h-2zM1269,508h2v1h-2zM1260,509h1v1h-1zM1270,509h1v1h-1zM1260,510h1v1h-1zM1270,510h1v1h-1zM1259,511h2v1h-2zM1270,511h2v1h-2zM1260,512h1v1h-1zM1270,512h1v1h-1zM1260,513h1v1h-1zM1270,513h1v1h-1zM1260,514h2v1h-2zM1269,514h2v1h-2zM1261,515h2v1h-2zM1268,515h2v1h-2zM1262,516h7v1h-7zM1265,517h1v1h-1z" fill="#0072b2"/>
<path d="M1311,505h1v1h-1zM1308,506h7v1h-7zM1307,507h2v1h-2zM1314,507h2v1h-2zM1306,508h2v1h-2zM1315,508h2v1h-2zM1306,509h1v1h-1zM1316,509h1v1h-1zM1306,510h1v1h-1zM1316,510h1v1h-1zM1305,511h2v1h-2zM1316,511h2v1h-2zM1306,512h1v1h-1zM1316,512h1v1h-1zM1306,513h1v1h-1zM1316,513h1v1h-1zM1306,514h2v1h-2zM1315,514h2v1h-2zM1307,515h2v1h-2zM1314,515h2v1h-2zM1308,516h7v1h-7zM1311,517h1v1h-1z" fill="#0072b2"/>
<path d="M1318,508h1v1h-1zM1315,509h7v1h-7zM1314,510h2v1h-2zM1321,510h2v1h-2zM1313,511h2v1h-2zM1322,511h2v1h-2zM1313,512h1v1h-1zM1323,512h1v1h-1zM1313,513h1v1h-1zM1323,513h1v1h-1zM1312,514h2v1h-2zM1323,514h2v1h-2zM1313,515h1v1h-1zM1323,515h1v1h-1zM1313,516h1v1h-1zM1323,516h1v1h-1zM1313,517h2v1h-2zM1322,517h2v1h-2zM1314,518h2v1h-2zM1321,518h2v1h-2zM1315,519h7v1h-7zM1318,520h1v1h-1z" fill="#0072b2"/>
<path d="M1365,514h1v1h-1zM1362,515h7v1h-7zM1361,516h2v1h-2zM1368,516h2v1h-2zM1360,517h2v1h-2zM1369,517h2v1h-2zM1360,518h1v1h-1zM1370,518h1v1h-1zM1360,519h1v1h-1zM1370,519h1v1h-1zM1359,520h2v1h-2zM1370,520h2v1h-2zM1360,521h1v1h-1zM1370,521h1v1h-1zM1360,522h1v1h-1zM1370,522h1v1h-1zM1360,523h2v1h-2zM1369,523h2v1h-2zM1361,524h2v1h-2zM1368,524h2v1h-2zM1362,525h7v1h-7zM1365,526h1v1h-1z" fill="#0072b2"/>
<path d="M96,533h1v1h-1zM93,534h7v1h-7zM92,535h9v1h-9zM91,536h11v1h-11zM91,537h11v1h-11zM91,538h11v1h-11zM90,539h13v1h-13zM91,540h11v1h-11zM91,541h11v1h-11zM91,542h11v1h-11zM92,543h9v1h-9zM93,544h7v1h-7zM96,545h1v1h-1z" fill="#e51e10"/>
<path d="M143,533h1v1h-1zM140,534h7v1h-7zM139,535h9v1h-9zM138,536h11v1h-11zM138,537h11v1h-11zM138,538h11v1h-11zM137,539h13v1h-13zM138,540h11v1h-11zM138,541h11v1h-11zM138,542h11v1h-11zM139,543h9v1h-9zM140,544h7v1h-7zM143,545h1v1h-1z" fill="#e51e10"/>
<path d="M202,533h1v1h-1zM199,534h7v1h-7zM198,535h9v1h-9zM197,536h11v1h-11zM197,537h11v1h-11zM197,538h11v1h-11zM196,539h13v1h-13zM197,540h11v1h-11zM197,541h11v1h-11zM197,542h11v1h-11zM198,543h9v1h-9zM199,544h7v1h-7zM202,545h1v1h-1z" fill="#e51e10"/>
<path d="M249,528h1v1h-1zM246,529h7v1h-7zM245,530h9v1h-9zM244,531h11v1h-11zM244,532h11v1h-11zM244,533h11v1h-11zM243,534h13v1h-13zM244,535h11v1h-11zM244,536h11v1h-11zM244,537h11v1h-11zM245,538h9v1h-9zM246,539h7v1h-7zM249,540h1v1h-1z" fill="#e51e10"/>
<path d="M255,533h1v1h-1zM252,534h7v1h-7zM251,535h9v1h-9zM250,536h11v1h-11zM250,537h11v1h-11zM250,538h11v1h-11zM249,539h13v1h-13zM250,540h11v1h-11zM250,541h11v1h-11zM250,542h11v1h-11zM251,543h9v1h-9zM252,544h7v1h-7zM255,545h1v1h-1z" fill="#e51e10"/>
<path d="M302,528h1v1h-1zM299,529h7v1h-7zM298,530h9v1h-9zM297,531h11v1h-11zM297,532h11v1h-11zM297,533h11v1h-11zM296,534h13v1h-13zM297,535h11v1h-11zM297,536h11v1h-11zM297,537h11v1h-11zM298,538h9v1h-9zM299,539h7v1h-7zM302,540h1v1h-1z" fill="#e51e10"/>
<path d="M308,533h1v1h-1zM305,534h7v1h-7zM304,535h9v1h-9zM303,536h11v1h-11zM303,537h11v1h-11zM303,538h11v1h-11zM302,539h13v1h-13zM303,540h11v1h-11zM303,541h11v1h-11zM303,542h11v1h-11zM304,543h9v1h-9zM305,544h7v1h-7zM308,545h1v1h-1z" fill="#e51e10"/>
<path d="M354,533h1v1h-1zM351,534h7v1h-7zM350,535h9v1h-9zM349,536h11v1h-11zM349,537h11v1h-11zM349,538h11v1h-11zM348,539h13v1h-13zM349,540h11v1h-11zM349,541h11v1h-11zM349,542h11v1h-11zM350,543h9v1h-9zM351,544h7v1h-7zM354,545h1v1h-1z" fill="#e51e10"/>
<path d="M361,533h1v1h-1zM358,534h7v1h-7zM357,535h9v1h-9zM356,536h11v1h-11zM356,537h11v1h-11zM356,538h11v1h-11zM355,539h13v1h-13zM356,540h11v1h-11zM356,541h11v1h-11zM356,542h11v1h-11zM357,543h9v1h-9zM358,544h7v1h-7zM361,545h1v1h-1z" fill="#e51e10"/>
<path d="M408,533h1v1h-1zM405,534h7v1h-7zM404,535h9v1h-9zM403,536h11v1h-11zM403,537h11v1h-11zM403,538h11v1h-11zM402,539h13v1h-13zM403,540h11v1h-11zM403,541h11v1h-11zM403,542h11v1h-11zM404,543h9v1h-9zM405,544h7v1h-7zM408,545h1v1h-1z" fill="#e51e10"/>
<path d="M415,533h1v1h-1zM412,534h7v1h-7zM411,535h9v1h-9zM410,536h11v1h-11zM410,537h11v1h-11zM410,538h11v1h-11zM409,539h13v1h-13zM410,540h11v1h-11zM410,541h11v1h-11zM410,542h11v1h-11zM411,543h9v1h-9zM412,544h7v1h-7zM415,545h1v1h-1z" fill="#e51e10"/>
<path d="M461,533h1v1h-1zM458,534h7v1h-7zM457,535h9v1h-9zM456,536h11v1h-11zM456,537h11v1h-11zM456,538h11v1h-11zM455,539h13v1h-13zM456,540h11v1h-11zM456,541h11v1h-11zM456,542h11v1h-11zM457,543h9v1h-9zM458,544h7v1h-7zM461,545h1v1h-1z" fill="#e51e10"/>
<path d="M468,533h1v1h-1zM465,534h7v1h-7zM464,535h9v1h-9zM463,536h11v1h-11zM463,537h11v1h-11zM463,538h11v1h-11zM462,539h13v1h-13zM463,540h11v1h-11zM463,541h11v1h-11zM463,542h11v1h-11zM464,543h9v1h-9zM465,544h7v1h-7zM468,545h1v1h-1z" fill="#e51e10"/>
<path d="M515,533h1v1h-1zM512,534h7v1h-7zM511,535h9v1h-9zM510,536h11v1h-11zM510,537h11v1h-11zM510,538h11v1h-11zM509,539h13v1h-13zM510,540h11v1h-11zM510,541h11v1h-11zM510,542h11v1h-11zM511,543h9v1h-9zM512,544h7v1h-7zM515,545h1v1h-1z" fill="#e51e10"/>
<path d="M521,533h1v1h-1zM518,534h7v1h-7zM517,535h9v1h-9zM516,536h11v1h-11zM516,537h11v1h-11zM516,538h11v1h-11zM515,539h13v1h-13zM516,540h11v1h-11zM516,541h11v1h-11zM516,542h11v1h-11zM517,543h9v1h-9zM518,544h7v1h-7zM521,545h1v1h-1z" fill="#e51e10"/>
<path d="M568,533h1v1h-1zM565,534h7v1h-7zM564,535h9v1h-9zM563,536h11v1h-11zM563,537h11v1h-11zM563,538h11v1h-11zM562,539h13v1h-13zM563,540h11v1h-11zM563,541h11v1h-11zM563,542h11v1h-11zM564,543h9v1h-9zM565,544h7v1h-7zM568,545h1v1h-1z" fill="#e51e10"/>
<path d="M574,533h1v1h-1zM571,534h7v1h-7zM570,535h9v1h-9zM569,536h11v1h-11zM569,537h11v1h-11zM569,538h11v1h-11zM568,539h13v1h-13zM569,540h11v1h-11zM569,541h11v1h-11zM569,542h11v1h-11zM570,543h9v1h-9zM571,544h7v1h-7zM574,545h1v1h-1z" fill="#e51e10"/>
<path d="M621,533h1v1h-1zM618,534h7v1h-7zM617,535h9v1h-9zM616,536h11v1h-11zM616,537h11v1h-11zM616,538h11v1h-11zM615,539h13v1h-13zM616,540h11v1h-11zM616,541h11v1h-11zM616,542h11v1h-11zM617,543h9v1h-9zM618,544h7v1h-7zM621,545h1v1h-1z" fill="#e51e10"/>
<path d="M627,533h1v1h-1zM624,534h7v1h-7zM623,535h9v1h-9zM622,536h11v1h-11zM622,537h11v1h-11zM622,538h11v1h-11zM621,539h13v1h-13zM622,540h11v1h-11zM622,541h11v1h-11zM622,542h11v1h-11zM623,543h9v1h-9zM624,544h7v1h-7zM627,545h1v1h-1z" fill="#e51e10"/>
<path d="M674,533h1v1h-1zM671,534h7v1h-7zM670,535h9v1h-9zM669,536h11v1h-11zM669,537h11v1h-11zM669,538h11v1h-11zM668,539h13v1h-13zM669,540h11v1h-11zM669,541h11v1h-11zM669,542h11v1h-11zM670,543h9v1h-9zM671,544h7v1h-7zM674,545h1v1h-1z" fill="#e51e10"/>
<path d="M680,533h1v1h-1zM677,534h7v1h-7zM676,535h9v1h-9zM675,536h11v1h-11zM675,537h11v1h-11zM675,538h11v1h-11zM674,539h13v1h-13zM675,540h11v1h-11zM675,541h11v1h-11zM675,542h11v1h-11zM676,543h9v1h-9zM677,544h7v1h-7zM680,545h1v1h-1z" fill="#e51e10"/>
<path d="M727,533h1v1h-1zM724,534h7v1h-7zM723,535h9v1h-9zM722,536h11v1h-11zM722,537h11v1h-11zM722,538h11v1h-11zM721,539h13v1h-13zM722,540h11v1h-11zM722,541h11v1h-11zM722,542h11v1h-11zM723,543h9v1h-9zM724,544h7v1h-7zM727,545h1v1h-1z" fill="#e51e10"/>
<path d="M733,533h1v1h-1zM730,534h7v1h-7zM729,535h9v1h-9zM728,536h11v1h-11zM728,537h11v1h-11zM728,538h11v1h-11zM727,539h13v1h-13zM728,540h11v1h-11zM728,541h11v1h-11zM728,542h11v1h-11zM729,543h9v1h-9zM730,544h7v1h-7zM733,545h1v1h-1z" fill="#e51e10"/>
<path d="M780,526h1v1h-1zM777,527h7v1h-7zM776,528h9v1h-9zM775,529h11v1h-11zM775,530h11v1h-11zM775,531h11v1h-11zM774,532h13v1h-13zM775,533h11v1h-11zM775,534h11v1h-11zM775,535h11v1h-11zM776,536h9v1h-9zM777,537h7v1h-7zM780,538h1v1h-1z" fill="#e51e10"/>
<path d="M786,533h1v1h-1zM783,534h7v1h-7zM782,535h9v1h-9zM781,536h11v1h-11zM781,537h11v1h-11zM781,538h11v1h-11zM780,539h13v1h-13zM781,540h11v1h-11zM781,541h11v1h-11zM781,542h11v1h-11zM782,543h9v1h-9zM783,544h7v1h-7zM786,545h1v1h-1z" fill="#e51e10"/>
<path d="M833,533h1v1h-1zM830,534h7v1h-7zM829,535h9v1h-9zM828,536h11v1h-11zM828,537h11v1h-11zM828,538h11v1h-11zM827,539h13v1h-13zM828,540h11v1h-11zM828,541h11v1h-11zM828,542h11v1h-11zM829,543h9v1h-9zM830,544h7v1h-7zM833,545h1v1h-1z" fill="#e51e10"/>
<path d="M840,533h1v1h-1zM837,534h7v1h-7zM836,535h9v1h-9zM835,536h11v1h-11zM835,537h11v1h-11zM835,538h11v1h-11zM834,539h13v1h-13zM835,540h11v1h-11zM835,541h11v1h-11zM835,542h11v1h-11zM836,543h9v1h-9zM837,544h7v1h-7zM840,545h1v1h-1z" fill="#e51e10"/>
<path d="M886,533h1v1h-1zM883,534h7v1h-7zM882,535h9v1h-9zM881,536h11v1h-11zM881,537h11v1h-11zM881,538h11v1h-11zM880,539h13v1h-13zM881,540h11v1h-11zM881,541h11v1h-11zM881,542h11v1h-11zM882,543h9v1h-9zM883,544h7v1h-7zM886,545h1v1h-1z" fill="#e51e10"/>
<path d="M893,533h1v1h-1zM890,534h7v1h-7zM889,535h9v1h-9zM888,536h11v1h-11zM888,537h11v1h-11zM888,538h11v1h-11zM887,539h13v1h-13zM888,540h11v1h-11zM888,541h11v1h-11zM888,542h11v1h-11zM889,543h9v1h-9zM890,544h7v1h-7zM893,545h1v1h-1z" fill="#e51e10"/>
<path d="M940,530h1v1h-1zM937,531h7v1h-7zM936,532h9v1h-9zM935,533h11v1h-11zM935,534h11v1h-11zM935,535h11v1h-11zM934,536h13v1h-13zM935,537h11v1h-11zM935,538h11v1h-11zM935,539h11v1h-11zM936,540h9v1h-9zM937,541h7v1h-7zM940,542h1v1h-1z" fill="#e51e10"/>
<path d="M946,533h1v1h-1zM943,534h7v1h-7zM942,535h9v1h-9zM941,536h11v1h-11zM941,537h11v1h-11zM941,538h11v1h-11zM940,539h13v1h-13zM941,540h11v1h-11zM941,541h11v1h-11zM941,542h11v1h-11zM942,543h9v1h-9zM943,544h7v1h-7zM946,545h1v1h-1z" fill="#e51e10"/>
<path d="M993,533h1v1h-1zM990,534h7v1h-7zM989,535h9v1h-9zM988,536h11v1h-11zM988,537h11v1h-11zM988,538h11v1h-11zM987,539h13v1h-13zM988,540h11v1h-11zM988,541h11v1h-11zM988,542h11v1h-11zM989,543h9v1h-9zM990,544h7v1h-7zM993,545h1v1h-1z" fill="#e51e10"/>
<path d="M999,533h1v1h-1zM996,534h7v1h-7zM995,535h9v1h-9zM994,536h11v1h-11zM994,537h11v1h-11zM994,538h11v1h-11zM993,539h13v1h-13zM994,540h11v1h-11zM994,541h11v1h-11zM994,542h11v1h-11zM995,543h9v1h-9zM996,544h7v1h-7zM999,545h1v1h-1z" fill="#e51e10"/>
<path d="M1046,527h1v1h-1zM1043,528h7v1h-7zM1042,529h9v1h-9zM1041,530h11v1h-11zM1041,531h11v1h-11zM1041,532h11v1h-11zM1040,533h13v1h-13zM1041,534h11v1h-11zM1041,535h11v1h-11zM1041,536h11v1h-11zM1042,537h9v1h-9zM1043,538h7v1h-7zM1046,539h1v1h-1z" fill="#e51e10"/>
<path d="M1052,533h1v1h-1zM1049,534h7v1h-7zM1048,535h9v1h-9zM1047,536h11v1h-11zM1047,537h11v1h-11zM1047,538h11v1h-11zM1046,539h13v1h-13zM1047,540h11v1h-11zM1047,541h11v1h-11zM1047,542h11v1h-11zM1048,543h9v1h-9zM1049,544h7v1h-7zM1052,545h1v1h-1z" fill="#e51e10"/>
<path d="M1099,533h1v1h-1zM1096,534h7v1h-7zM1095,535h9v1h-9zM1094,536h11v1h-11zM1094,537h11v1h-11zM1094,538h11v1h-11zM1093,539h13v1h-13zM1094,540h11v1h-11zM1094,541h11v1h-11zM1094,542h11v1h-11zM1095,543h9v1h-9zM1096,544h7v1h-7zM1099,545h1v1h-1z" fill="#e51e10"/>
<path d="M1105,533h1v1h-1zM1102,534h7v1h-7zM1101,535h9v1h-9zM1100,536h11v1h-11zM1100,537h11v1h-11zM1100,538h11v1h-11zM1099,539h13v1h-13zM1100,540h11v1h-11zM1100,541h11v1h-11zM1100,542h11v1h-11zM1101,543h9v1h-9zM1102,544h7v1h-7zM1105,545h1v1h-1z" fill="#e51e10"/>
<path d="M1152,528h1v1h-1zM1149,529h7v1h-7zM1148,530h9v1h-9zM1147,531h11v1h-11zM1147,532h11v1h-11zM1147,533h11v1h-11zM1146,534h13v1h-13zM1147,535h11v1h-11zM1147,536h11v1h-11zM1147,537h11v1h-11zM1148,538h9v1h-9zM1149,539h7v1h-7zM1152,540h1v1h-1z" fill="#e51e10"/>
<path d="M1158,533h1v1h-1zM1155,534h7v1h-7zM1154,535h9v1h-9zM1153,536h11v1h-11zM1153,537h11v1h-11zM1153,538h11v1h-11zM1152,539h13v1h-13zM1153,540h11v1h-11zM1153,541h11v1h-11zM1153,542h11v1h-11zM1154,543h9v1h-9zM1155,544h7v1h-7zM1158,545h1v1h-1z" fill="#e51e10"/>
<path d="M1205,530h1v1h-1zM1202,531h7v1h-7zM1201,532h9v1h-9zM1200,533h11v1h-11zM1200,534h11v1h-11zM1200,535h11v1h-11zM1199,536h13v1h-13zM1200,537h11v1h-11zM1200,538h11v1h-11zM1200,539h11v1h-11zM1201,540h9v1h-9zM1202,541h7v1h-7zM1205,542h1v1h-1z" fill="#e51e10"/>
<path d="M1211,533h1v1h-1zM1208,534h7v1h-7zM1207,535h9v1h-9zM1206,536h11v1h-11zM1206,537h11v1h-11zM1206,538h11v1h-11zM1205,539h13v1h-13zM1206,540h11v1h-11zM1206,541h11v1h-11zM1206,542h11v1h-11zM1207,543h9v1h-9zM1208,544h7v1h-7zM1211,545h1v1h-1z" fill="#e51e10"/>
<path d="M1258,533h1v1h-1zM1255,534h7v1h-7zM1254,535h9v1h-9zM1253,536h11v1h-11zM1253,537h11v1h-11zM1253,538h11v1h-11zM1252,539h13v1h-13zM1253,540h11v1h-11zM1253,541h11v1h-11zM1253,542h11v1h-11zM1254,543h9v1h-9zM1255,544h7v1h-7zM1258,545h1v1h-1z" fill="#e51e10"/>
<path d="M1265,533h1v1h-1zM1262,534h7v1h-7zM1261,535h9v1h-9zM1260,536h11v1h-11zM1260,537h11v1h-11zM1260,538h11v1h-11zM1259,539h13v1h-13zM1260,540h11v1h-11zM1260,541h11v1h-11zM1260,542h11v1h-11zM1261,543h9v1h-9zM1262,544h7v1h-7zM1265,545h1v1h-1z" fill="#e51e10"/>
<path d="M1311,533h1v1h-1zM1308,534h7v1h-7zM1307,535h9v1h-9zM1306,536h11v1h-11zM1306,537h11v1h-11zM1306,538h11v1h-11zM1305,539h13v1h-13zM1306,540h11v1h-11zM1306,541h11v1h-11zM1306,542h11v1h-11zM1307,543h9v1h-9zM1308,544h7v1h-7zM1311,545h1v1h-1z" fill="#e51e10"/>
<path d="M1318,533h1v1h-1zM1315,534h7v1h-7zM1314,535h9v1h-9zM1313,536h11v1h-11zM1313,537h11v1h-11zM1313,538h11v1h-11zM1312,539h13v1h-13zM1313,540h11v1h-11zM1313,541h11v1h-11zM1313,542h11v1h-11zM1314,543h9v1h-9zM1315,544h7v1h-7zM1318,545h1v1h-1z" fill="#e51e10"/>
<path d="M1365,533h1v1h-1zM1362,534h7v1h-7zM1361,535h9v1h-9zM1360,536h11v1h-11zM1360,537h11v1h-11zM1360,538h11v1h-11zM1359,539h13v1h-13zM1360,540h11v1h-11zM1360,541h11v1h-11zM1360,542h11v1h-11zM1361,543h9v1h-9zM1362,544h7v1h-7zM1365,545h1v1h-1z" fill="#e51e10"/>
<rect x="94.5" y="57.5" width="1275.0" height="482.0" fill="none" stroke="#000" stroke-width="1"/>
</svg></body></html>
